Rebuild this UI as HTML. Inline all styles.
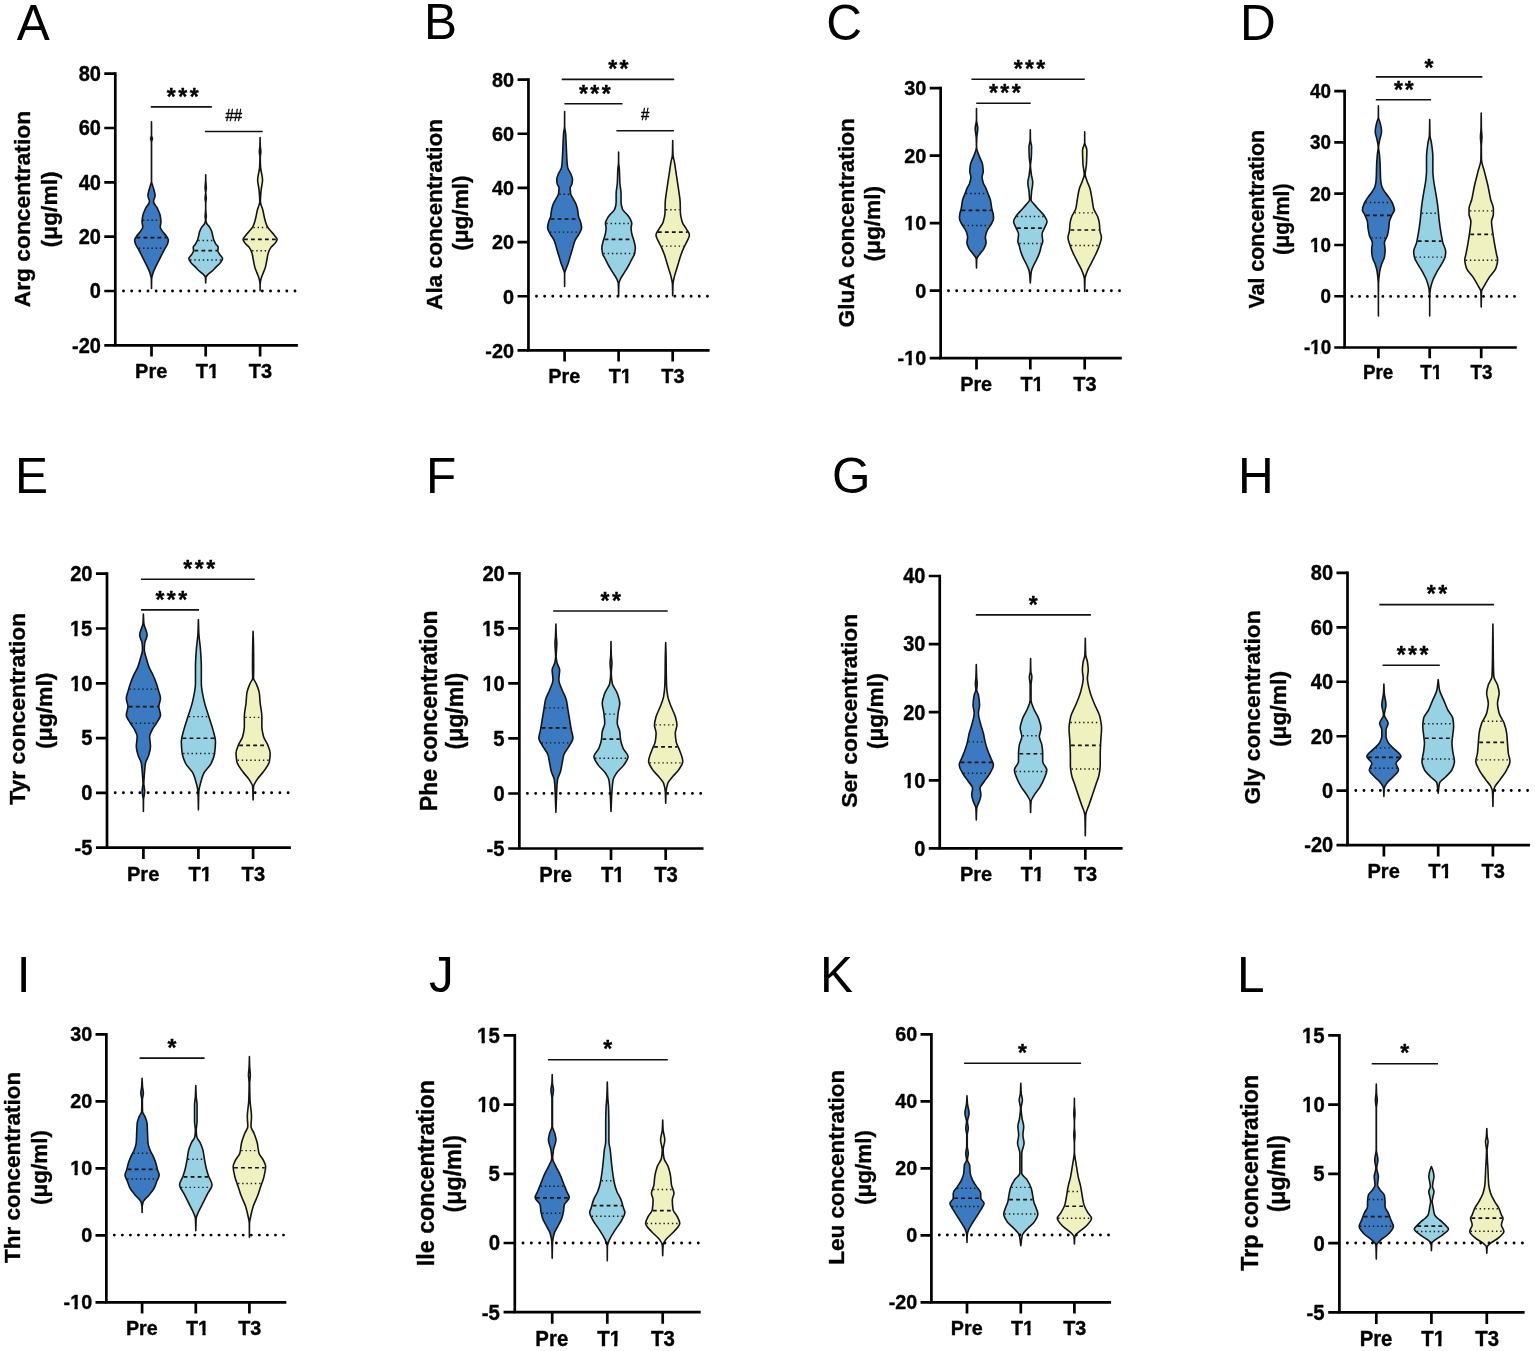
<!DOCTYPE html>
<html><head><meta charset="utf-8"><title>Amino acid concentrations</title>
<style>html,body{margin:0;padding:0;background:#fff;}body{width:1535px;height:1351px;overflow:hidden;}svg{display:block;}svg text[font-weight=bold]{stroke:#000;stroke-width:0.35px;stroke-linejoin:round;}</style>
</head><body>
<svg width="1535" height="1351" viewBox="0 0 1535 1351" font-family="'Liberation Sans', Arial, Helvetica, sans-serif">
<defs><clipPath id="c0"><rect x="-50" y="-60" width="140" height="56.7"/><rect x="0" y="-3.8" width="12.22" height="13.8"/><rect x="16.62" y="-3.8" width="3.16" height="13.8"/></clipPath><clipPath id="c1"><rect x="-50" y="-59.58" width="139.72" height="56.3"/><rect x="0" y="-3.78" width="12.12" height="13.71"/><rect x="16.49" y="-3.78" width="3.14" height="13.71"/></clipPath><clipPath id="c2"><rect x="-50" y="-59.64" width="139.76" height="56.36"/><rect x="4.37" y="-3.78" width="3.14" height="13.72"/><rect x="11.07" y="-3.78" width="11.07" height="13.72"/></clipPath><clipPath id="c3"><rect x="-50" y="-59.64" width="159.64" height="56.36"/><rect x="0" y="-3.78" width="6.63" height="13.72"/><rect x="11" y="-3.78" width="3.14" height="13.72"/><rect x="17.69" y="-3.78" width="11.07" height="13.72"/></clipPath><clipPath id="c4"><rect x="-50" y="-59.64" width="139.76" height="56.36"/><rect x="0" y="-3.78" width="12.16" height="13.72"/><rect x="16.53" y="-3.78" width="3.14" height="13.72"/></clipPath><clipPath id="c5"><rect x="-50" y="-56.46" width="137.64" height="53.35"/><rect x="4.14" y="-3.61" width="2.97" height="13.02"/><rect x="10.46" y="-3.61" width="10.46" height="13.02"/></clipPath><clipPath id="c6"><rect x="-50" y="-56.46" width="156.46" height="53.35"/><rect x="0" y="-3.61" width="6.26" height="13.02"/><rect x="10.4" y="-3.61" width="2.97" height="13.02"/><rect x="16.72" y="-3.61" width="10.46" height="13.02"/></clipPath><clipPath id="c7"><rect x="-50" y="-56.46" width="137.64" height="53.35"/><rect x="0" y="-3.61" width="11.48" height="13.02"/><rect x="15.62" y="-3.61" width="2.97" height="13.02"/></clipPath><clipPath id="c8"><rect x="-50" y="-60.36" width="140.24" height="57.04"/><rect x="4.43" y="-3.82" width="3.18" height="13.88"/><rect x="11.18" y="-3.82" width="11.18" height="13.88"/></clipPath><clipPath id="c9"><rect x="-50" y="-60.36" width="140.24" height="57.04"/><rect x="4.43" y="-3.82" width="3.18" height="13.88"/><rect x="11.18" y="-3.82" width="11.18" height="13.88"/></clipPath><clipPath id="c10"><rect x="-50" y="-60.36" width="140.24" height="57.04"/><rect x="0" y="-3.82" width="12.28" height="13.88"/><rect x="16.7" y="-3.82" width="3.18" height="13.88"/></clipPath><clipPath id="c11"><rect x="-50" y="-60.6" width="140.4" height="57.27"/><rect x="4.44" y="-3.83" width="3.19" height="13.93"/><rect x="11.23" y="-3.83" width="11.23" height="13.93"/></clipPath><clipPath id="c12"><rect x="-50" y="-60.6" width="140.4" height="57.27"/><rect x="4.44" y="-3.83" width="3.19" height="13.93"/><rect x="11.23" y="-3.83" width="11.23" height="13.93"/></clipPath><clipPath id="c13"><rect x="-50" y="-60.6" width="140.4" height="57.27"/><rect x="0" y="-3.83" width="12.34" height="13.93"/><rect x="16.78" y="-3.83" width="3.19" height="13.93"/></clipPath><clipPath id="c14"><rect x="-50" y="-60" width="140" height="56.7"/><rect x="4.4" y="-3.8" width="3.16" height="13.8"/><rect x="11.12" y="-3.8" width="11.12" height="13.8"/></clipPath><clipPath id="c15"><rect x="-50" y="-60" width="140" height="56.7"/><rect x="0" y="-3.8" width="12.22" height="13.8"/><rect x="16.62" y="-3.8" width="3.16" height="13.8"/></clipPath><clipPath id="c16"><rect x="-50" y="-60.12" width="140.08" height="56.81"/><rect x="0" y="-3.81" width="12.25" height="13.83"/><rect x="16.66" y="-3.81" width="3.17" height="13.83"/></clipPath><clipPath id="c17"><rect x="-50" y="-59.22" width="139.48" height="55.96"/><rect x="4.34" y="-3.76" width="3.12" height="13.63"/><rect x="10.98" y="-3.76" width="10.98" height="13.63"/></clipPath><clipPath id="c18"><rect x="-50" y="-59.22" width="159.22" height="55.96"/><rect x="0" y="-3.76" width="6.58" height="13.63"/><rect x="10.92" y="-3.76" width="3.12" height="13.63"/><rect x="17.56" y="-3.76" width="10.98" height="13.63"/></clipPath><clipPath id="c19"><rect x="-50" y="-59.22" width="139.48" height="55.96"/><rect x="0" y="-3.76" width="12.06" height="13.63"/><rect x="16.41" y="-3.76" width="3.12" height="13.63"/></clipPath><clipPath id="c20"><rect x="-50" y="-61.26" width="140.84" height="57.89"/><rect x="4.49" y="-3.87" width="3.23" height="14.08"/><rect x="11.35" y="-3.87" width="11.35" height="14.08"/></clipPath><clipPath id="c21"><rect x="-50" y="-61.26" width="140.84" height="57.89"/><rect x="4.49" y="-3.87" width="3.23" height="14.08"/><rect x="11.35" y="-3.87" width="11.35" height="14.08"/></clipPath><clipPath id="c22"><rect x="-50" y="-61.26" width="140.84" height="57.89"/><rect x="0" y="-3.87" width="12.46" height="14.08"/><rect x="16.95" y="-3.87" width="3.23" height="14.08"/></clipPath><clipPath id="c23"><rect x="-50" y="-59.22" width="139.48" height="55.96"/><rect x="0" y="-3.76" width="12.06" height="13.63"/><rect x="16.41" y="-3.76" width="3.12" height="13.63"/></clipPath><clipPath id="c24"><rect x="-50" y="-61.02" width="140.68" height="57.66"/><rect x="4.47" y="-3.86" width="3.21" height="14.03"/><rect x="11.32" y="-3.86" width="11.32" height="14.03"/></clipPath><clipPath id="c25"><rect x="-50" y="-61.02" width="140.68" height="57.66"/><rect x="4.47" y="-3.86" width="3.21" height="14.03"/><rect x="11.32" y="-3.86" width="11.32" height="14.03"/></clipPath><clipPath id="c26"><rect x="-50" y="-61.02" width="140.68" height="57.66"/><rect x="0" y="-3.86" width="12.43" height="14.03"/><rect x="16.91" y="-3.86" width="3.21" height="14.03"/></clipPath></defs>
<rect width="1535" height="1351" fill="#fff"/>
<g>
<text x="16.75" y="39.6" font-size="49.5">A</text>
<path d="M151.5,121.71C151.52,126.38 151.51,131.05 151.55,135.71C151.56,136.67 152.39,137.62 152.39,138.57C152.39,139.76 151.55,140.95 151.55,142.14C151.55,155.24 151.55,168.33 151.55,181.43C151.55,182.38 151.99,183.33 152.24,184.29C152.75,186.19 153.5,188.1 153.96,190C154.41,191.9 155.1,193.81 155.1,195.71C155.1,197.62 153.53,199.52 153.53,201.43C153.53,203.81 156.45,206.19 157.53,208.57C158.61,210.95 159.8,213.33 160.24,215.71C160.59,217.62 160.96,219.52 160.96,221.43C160.96,223.33 160.24,225.24 160.24,227.14C160.24,228.57 161.6,230 162.53,231.43C163.46,232.86 165.17,234.29 166.1,235.71C167.03,237.14 168.39,238.57 168.39,240C168.39,241.43 167.85,242.86 167.39,244.29C166.77,246.19 165.12,248.1 164.1,250C163.08,251.9 162.2,253.81 161.24,255.71C160.29,257.62 159.34,259.52 158.39,261.43C157.43,263.33 156.4,265.24 155.53,267.14C154.65,269.05 153.7,270.95 153.1,272.86C152.5,274.76 151.74,276.67 151.67,278.57C151.56,281.9 151.56,285.24 151.5,288.57L151.5,288.57C151.44,285.24 151.44,281.9 151.33,278.57C151.26,276.67 150.5,274.76 149.9,272.86C149.3,270.95 148.35,269.05 147.47,267.14C146.6,265.24 145.57,263.33 144.61,261.43C143.66,259.52 142.71,257.62 141.76,255.71C140.8,253.81 139.92,251.9 138.9,250C137.88,248.1 136.23,246.19 135.61,244.29C135.15,242.86 134.61,241.43 134.61,240C134.61,238.57 135.97,237.14 136.9,235.71C137.83,234.29 139.54,232.86 140.47,231.43C141.4,230 142.76,228.57 142.76,227.14C142.76,225.24 142.04,223.33 142.04,221.43C142.04,219.52 142.41,217.62 142.76,215.71C143.2,213.33 144.39,210.95 145.47,208.57C146.55,206.19 149.47,203.81 149.47,201.43C149.47,199.52 147.9,197.62 147.9,195.71C147.9,193.81 148.59,191.9 149.04,190C149.5,188.1 150.25,186.19 150.76,184.29C151.01,183.33 151.45,182.38 151.45,181.43C151.45,168.33 151.45,155.24 151.45,142.14C151.45,140.95 150.61,139.76 150.61,138.57C150.61,137.62 151.44,136.67 151.45,135.71C151.49,131.05 151.48,126.38 151.5,121.71Z" fill="#3b79c0" stroke="#141414" stroke-width="1.6" stroke-linejoin="round"/>
<line x1="142.98" y1="220.29" x2="160.02" y2="220.29" stroke="#1a1a1a" stroke-width="1.4" stroke-dasharray="1.4 2.83"/>
<line x1="136.5" y1="237.57" x2="166.5" y2="237.57" stroke="#111" stroke-width="1.7" stroke-dasharray="3.8 3.2"/>
<line x1="138.76" y1="248.29" x2="164.24" y2="248.29" stroke="#1a1a1a" stroke-width="1.4" stroke-dasharray="1.4 2.83"/>
<path d="M205.7,174.86C205.72,176.57 205.72,178.29 205.75,180C205.77,181.19 205.93,182.38 206.01,183.57C206.12,185.14 206.3,186.71 206.3,188.29C206.3,189.81 205.75,191.33 205.75,192.86C205.75,194.62 206.3,196.38 206.3,198.14C206.3,199.95 205.75,201.76 205.75,203.57C205.75,205.24 205.75,206.9 205.75,208.57C205.75,210.1 205.91,211.62 206.01,213.14C206.09,214.19 206.3,215.24 206.3,216.29C206.3,217.43 205.87,218.57 205.87,219.71C205.87,220.86 206.22,222 206.59,223.14C207.01,224.48 208.78,225.81 209.59,227.14C210.44,228.57 211.27,230 211.73,231.43C212.18,232.86 212.37,234.29 212.73,235.71C213.08,237.14 213.37,238.57 213.87,240C214.37,241.43 215.15,242.86 216.01,244.29C216.59,245.24 218.16,246.19 218.16,247.14C218.16,248.33 217.87,249.52 217.87,250.71C217.87,251.9 218.91,253.1 219.59,254.29C220.39,255.71 222.59,257.14 222.59,258.57C222.59,260 221.29,261.43 220.3,262.86C219.31,264.29 217.44,265.71 216.01,267.14C214.59,268.57 213.33,270 211.73,271.43C210.66,272.38 209.05,273.33 208.16,274.29C207.26,275.24 206.13,276.19 206.01,277.14C205.84,278.57 205.81,280 205.75,281.43C205.73,281.9 205.72,282.38 205.7,282.86L205.7,282.86C205.68,282.38 205.67,281.9 205.65,281.43C205.59,280 205.56,278.57 205.39,277.14C205.27,276.19 204.14,275.24 203.24,274.29C202.35,273.33 200.74,272.38 199.67,271.43C198.07,270 196.81,268.57 195.39,267.14C193.96,265.71 192.09,264.29 191.1,262.86C190.11,261.43 188.81,260 188.81,258.57C188.81,257.14 191.01,255.71 191.81,254.29C192.49,253.1 193.53,251.9 193.53,250.71C193.53,249.52 193.24,248.33 193.24,247.14C193.24,246.19 194.81,245.24 195.39,244.29C196.25,242.86 197.03,241.43 197.53,240C198.03,238.57 198.32,237.14 198.67,235.71C199.03,234.29 199.22,232.86 199.67,231.43C200.13,230 200.96,228.57 201.81,227.14C202.62,225.81 204.39,224.48 204.81,223.14C205.18,222 205.53,220.86 205.53,219.71C205.53,218.57 205.1,217.43 205.1,216.29C205.1,215.24 205.31,214.19 205.39,213.14C205.49,211.62 205.65,210.1 205.65,208.57C205.65,206.9 205.65,205.24 205.65,203.57C205.65,201.76 205.1,199.95 205.1,198.14C205.1,196.38 205.65,194.62 205.65,192.86C205.65,191.33 205.1,189.81 205.1,188.29C205.1,186.71 205.28,185.14 205.39,183.57C205.47,182.38 205.63,181.19 205.65,180C205.68,178.29 205.68,176.57 205.7,174.86Z" fill="#96d2e4" stroke="#141414" stroke-width="1.6" stroke-linejoin="round"/>
<line x1="198.27" y1="240.43" x2="213.13" y2="240.43" stroke="#1a1a1a" stroke-width="1.4" stroke-dasharray="1.4 2.83"/>
<line x1="194.43" y1="250.71" x2="216.97" y2="250.71" stroke="#111" stroke-width="1.7" stroke-dasharray="3.8 3.2"/>
<line x1="190.09" y1="260" x2="221.31" y2="260" stroke="#1a1a1a" stroke-width="1.4" stroke-dasharray="1.4 2.83"/>
<path d="M260.1,137.43C260.16,140.19 260.17,142.95 260.27,145.71C260.34,147.62 260.84,149.52 260.84,151.43C260.84,153.33 260.27,155.24 260.27,157.14C260.27,160.48 260.4,163.81 260.56,167.14C260.76,171.43 262.56,175.71 262.56,180C262.56,183.33 261.42,186.67 261.13,190C260.79,193.81 260.41,197.62 260.41,201.43C260.41,204.29 262.18,207.14 262.84,210C263.28,211.9 263.56,213.81 263.99,215.71C264.41,217.62 264.84,219.52 265.41,221.43C265.99,223.33 266.55,225.24 267.56,227.14C268.31,228.57 269.94,230 271.13,231.43C272.32,232.86 273.63,234.29 274.7,235.71C275.59,236.9 277.13,238.1 277.13,239.29C277.13,240.48 276.18,241.67 275.41,242.86C274.5,244.29 272.1,245.71 271.13,247.14C269.84,249.05 268.82,250.95 268.27,252.86C267.58,255.24 267.32,257.62 266.84,260C266.37,262.38 266.04,264.76 265.41,267.14C264.91,269.05 263.99,270.95 263.27,272.86C262.56,274.76 261.58,276.67 261.13,278.57C260.68,280.48 260.18,282.38 260.15,284.29C260.12,286.43 260.12,288.57 260.1,290.71L260.1,290.71C260.08,288.57 260.08,286.43 260.05,284.29C260.02,282.38 259.52,280.48 259.07,278.57C258.62,276.67 257.64,274.76 256.93,272.86C256.21,270.95 255.29,269.05 254.79,267.14C254.16,264.76 253.83,262.38 253.36,260C252.88,257.62 252.62,255.24 251.93,252.86C251.38,250.95 250.36,249.05 249.07,247.14C248.1,245.71 245.7,244.29 244.79,242.86C244.02,241.67 243.07,240.48 243.07,239.29C243.07,238.1 244.61,236.9 245.5,235.71C246.57,234.29 247.88,232.86 249.07,231.43C250.26,230 251.89,228.57 252.64,227.14C253.65,225.24 254.21,223.33 254.79,221.43C255.36,219.52 255.79,217.62 256.21,215.71C256.64,213.81 256.92,211.9 257.36,210C258.02,207.14 259.79,204.29 259.79,201.43C259.79,197.62 259.41,193.81 259.07,190C258.78,186.67 257.64,183.33 257.64,180C257.64,175.71 259.44,171.43 259.64,167.14C259.8,163.81 259.93,160.48 259.93,157.14C259.93,155.24 259.36,153.33 259.36,151.43C259.36,149.52 259.86,147.62 259.93,145.71C260.03,142.95 260.04,140.19 260.1,137.43Z" fill="#eff2bf" stroke="#141414" stroke-width="1.6" stroke-linejoin="round"/>
<line x1="253.38" y1="227.43" x2="266.82" y2="227.43" stroke="#1a1a1a" stroke-width="1.4" stroke-dasharray="1.4 2.83"/>
<line x1="243.97" y1="239.29" x2="276.23" y2="239.29" stroke="#111" stroke-width="1.7" stroke-dasharray="3.8 3.2"/>
<line x1="252.02" y1="250.71" x2="268.18" y2="250.71" stroke="#1a1a1a" stroke-width="1.4" stroke-dasharray="1.4 2.83"/>
<line x1="123.5" y1="291" x2="295.3" y2="291" stroke="#000" stroke-width="2.9" stroke-linecap="round" stroke-dasharray="0 8.1667"/>
<path d="M115.3,72.35 V345.3 H297.9" fill="none" stroke="#000" stroke-width="2.7" stroke-linecap="butt" stroke-linejoin="miter"/>
<path d="M104.3,73.7 H115.3 M104.3,128.02 H115.3 M104.3,182.34 H115.3 M104.3,236.66 H115.3 M104.3,290.98 H115.3 M104.3,345.3 H115.3 M151.5,345.3 V356.6 M205.7,345.3 V356.6 M260.1,345.3 V356.6" stroke="#000" stroke-width="2.7" fill="none"/>
<text transform="translate(78.7,81.01) scale(1,1.06)" font-size="20" font-weight="bold">80</text>
<text transform="translate(78.7,135.33) scale(1,1.06)" font-size="20" font-weight="bold">60</text>
<text transform="translate(78.7,189.65) scale(1,1.06)" font-size="20" font-weight="bold">40</text>
<text transform="translate(78.7,243.97) scale(1,1.06)" font-size="20" font-weight="bold">20</text>
<text transform="translate(89.8,298.29) scale(1,1.06)" font-size="20" font-weight="bold">0</text>
<text transform="translate(72,352.61) scale(1,1.06)" font-size="20" font-weight="bold">-20</text>
<text transform="translate(135.1,378.3) scale(1,1.05)" font-size="20" font-weight="bold">Pre</text>
<text transform="translate(195.77,378.3) scale(1,1.05)" font-size="20" font-weight="bold" clip-path="url(#c0)">T1</text>
<text transform="translate(248.7,378.3) scale(1,1.05)" font-size="20" font-weight="bold">T3</text>
<line x1="150.8" y1="106.9" x2="211.9" y2="106.9" stroke="#111" stroke-width="1.6"/>
<text x="166.85" y="105" font-size="23" font-weight="bold">*</text>
<text x="178.25" y="105" font-size="23" font-weight="bold">*</text>
<text x="189.65" y="105" font-size="23" font-weight="bold">*</text>
<line x1="204.9" y1="131.5" x2="262.7" y2="131.5" stroke="#111" stroke-width="1.6"/>
<text stroke="#000" stroke-width="0.35" transform="translate(225.45,121.06) scale(1,1.08)" font-size="15">##</text>
<text transform="translate(30.1,209.5) rotate(-90)" x="-97.75" font-size="22.8" font-weight="bold">Arg concentration</text>
<text transform="translate(57,209.4) rotate(-90)" x="-38" font-size="22.8" font-weight="bold">(&#956;g/ml)</text>
</g>
<g>
<text x="423.9" y="39.2" font-size="49.5">B</text>
<path d="M564.6,111.43C564.62,116.43 564.61,121.43 564.65,126.43C564.67,128.81 565.44,131.19 565.63,133.57C566,138.33 566.1,143.1 566.34,147.86C566.58,152.62 566.69,157.38 567.06,162.14C567.2,164.05 567.39,165.95 567.77,167.86C568.15,169.76 569.88,171.67 570.63,173.57C571.38,175.48 572.49,177.38 572.49,179.29C572.49,180.71 572.29,182.14 572.06,183.57C571.83,185 570.2,186.43 570.2,187.86C570.2,189.76 570.38,191.67 570.63,193.57C570.88,195.48 572.53,197.38 573.49,199.29C574.44,201.19 575.71,203.1 576.34,205C576.98,206.9 577.45,208.81 577.77,210.71C578.09,212.62 578.13,214.52 578.49,216.43C578.84,218.33 580.17,220.24 580.63,222.14C581.08,224.05 581.63,225.95 581.63,227.86C581.63,229.76 580.14,231.67 579.2,233.57C578.02,235.95 575.87,238.33 574.91,240.71C573.96,243.1 573.49,245.48 572.77,247.86C572.06,250.24 571.34,252.62 570.63,255C569.91,257.38 569.26,259.76 568.49,262.14C567.71,264.52 566.68,266.9 565.91,269.29C565.45,270.71 564.66,272.14 564.65,273.57C564.61,277.86 564.62,282.14 564.6,286.43L564.6,286.43C564.58,282.14 564.59,277.86 564.55,273.57C564.54,272.14 563.75,270.71 563.29,269.29C562.52,266.9 561.49,264.52 560.71,262.14C559.94,259.76 559.29,257.38 558.57,255C557.86,252.62 557.14,250.24 556.43,247.86C555.71,245.48 555.24,243.1 554.29,240.71C553.33,238.33 551.18,235.95 550,233.57C549.06,231.67 547.57,229.76 547.57,227.86C547.57,225.95 548.12,224.05 548.57,222.14C549.03,220.24 550.36,218.33 550.71,216.43C551.07,214.52 551.11,212.62 551.43,210.71C551.75,208.81 552.22,206.9 552.86,205C553.49,203.1 554.76,201.19 555.71,199.29C556.67,197.38 558.32,195.48 558.57,193.57C558.82,191.67 559,189.76 559,187.86C559,186.43 557.38,185 557.14,183.57C556.91,182.14 556.71,180.71 556.71,179.29C556.71,177.38 557.82,175.48 558.57,173.57C559.32,171.67 561.05,169.76 561.43,167.86C561.81,165.95 562,164.05 562.14,162.14C562.51,157.38 562.62,152.62 562.86,147.86C563.1,143.1 563.2,138.33 563.57,133.57C563.76,131.19 564.53,128.81 564.55,126.43C564.59,121.43 564.58,116.43 564.6,111.43Z" fill="#3b79c0" stroke="#141414" stroke-width="1.6" stroke-linejoin="round"/>
<line x1="559.32" y1="194.29" x2="569.88" y2="194.29" stroke="#1a1a1a" stroke-width="1.4" stroke-dasharray="1.4 2.83"/>
<line x1="550.71" y1="219" x2="578.49" y2="219" stroke="#111" stroke-width="1.7" stroke-dasharray="3.8 3.2"/>
<line x1="550.12" y1="232.14" x2="579.08" y2="232.14" stroke="#1a1a1a" stroke-width="1.4" stroke-dasharray="1.4 2.83"/>
<path d="M618.6,152.14C618.62,155.48 618.62,158.81 618.65,162.14C618.67,164.52 619.2,166.9 619.34,169.29C619.63,174.05 619.62,178.81 619.91,183.57C620.12,186.9 621.06,190.24 621.06,193.57C621.06,196.43 621.06,199.29 621.06,202.14C621.06,204.52 621.69,206.9 622.49,209.29C623.12,211.19 626.05,213.1 627.49,215C628.56,216.43 629.71,217.86 630.34,219.29C630.98,220.71 631.77,222.14 631.77,223.57C631.77,225 631.06,226.43 631.06,227.86C631.06,229.76 631.44,231.67 631.77,233.57C632.19,235.95 633.34,238.33 633.91,240.71C634.49,243.1 635.34,245.48 635.34,247.86C635.34,249.76 635.01,251.67 634.63,253.57C634.25,255.48 632.72,257.38 631.77,259.29C630.82,261.19 629.95,263.1 628.91,265C627.62,267.38 626.06,269.76 624.63,272.14C623.2,274.52 621.34,276.9 620.34,279.29C619.74,280.71 618.99,282.14 618.91,283.57C618.69,287.62 618.7,291.67 618.6,295.71L618.6,295.71C618.5,291.67 618.51,287.62 618.29,283.57C618.21,282.14 617.46,280.71 616.86,279.29C615.86,276.9 614,274.52 612.57,272.14C611.14,269.76 609.58,267.38 608.29,265C607.25,263.1 606.38,261.19 605.43,259.29C604.48,257.38 602.95,255.48 602.57,253.57C602.19,251.67 601.86,249.76 601.86,247.86C601.86,245.48 602.71,243.1 603.29,240.71C603.86,238.33 605.01,235.95 605.43,233.57C605.76,231.67 606.14,229.76 606.14,227.86C606.14,226.43 605.43,225 605.43,223.57C605.43,222.14 606.22,220.71 606.86,219.29C607.49,217.86 608.64,216.43 609.71,215C611.15,213.1 614.08,211.19 614.71,209.29C615.51,206.9 616.14,204.52 616.14,202.14C616.14,199.29 616.14,196.43 616.14,193.57C616.14,190.24 617.08,186.9 617.29,183.57C617.58,178.81 617.57,174.05 617.86,169.29C618,166.9 618.53,164.52 618.55,162.14C618.58,158.81 618.58,155.48 618.6,152.14Z" fill="#96d2e4" stroke="#141414" stroke-width="1.6" stroke-linejoin="round"/>
<line x1="606.33" y1="223.57" x2="630.87" y2="223.57" stroke="#1a1a1a" stroke-width="1.4" stroke-dasharray="1.4 2.83"/>
<line x1="604.59" y1="239.29" x2="632.61" y2="239.29" stroke="#111" stroke-width="1.7" stroke-dasharray="3.8 3.2"/>
<line x1="603.47" y1="253.57" x2="633.73" y2="253.57" stroke="#1a1a1a" stroke-width="1.4" stroke-dasharray="1.4 2.83"/>
<path d="M672.7,140.43C672.8,145.29 672.81,150.14 673.01,155C673.12,157.38 674.03,159.76 674.44,162.14C675.27,166.9 675.87,171.67 676.59,176.43C677.3,181.19 678.08,185.95 678.73,190.71C679.25,194.52 680,198.33 680.16,202.14C680.32,205.95 680.27,209.76 680.44,213.57C680.58,216.43 681.38,219.29 682.3,222.14C683.07,224.52 685.29,226.9 686.59,229.29C687.62,231.19 689.44,233.1 689.44,235C689.44,237.38 687.65,239.76 686.59,242.14C685.74,244.05 684.58,245.95 683.73,247.86C682.67,250.24 681.69,252.62 680.87,255C680.06,257.38 679.44,259.76 678.73,262.14C678.01,264.52 677.3,266.9 676.59,269.29C675.87,271.67 675.01,274.05 674.44,276.43C673.87,278.81 673.13,281.19 673.01,283.57C672.82,287.62 672.8,291.67 672.7,295.71L672.7,295.71C672.6,291.67 672.58,287.62 672.39,283.57C672.27,281.19 671.53,278.81 670.96,276.43C670.39,274.05 669.53,271.67 668.81,269.29C668.1,266.9 667.39,264.52 666.67,262.14C665.96,259.76 665.34,257.38 664.53,255C663.71,252.62 662.73,250.24 661.67,247.86C660.82,245.95 659.66,244.05 658.81,242.14C657.75,239.76 655.96,237.38 655.96,235C655.96,233.1 657.78,231.19 658.81,229.29C660.11,226.9 662.33,224.52 663.1,222.14C664.02,219.29 664.82,216.43 664.96,213.57C665.13,209.76 665.08,205.95 665.24,202.14C665.4,198.33 666.15,194.52 666.67,190.71C667.32,185.95 668.1,181.19 668.81,176.43C669.53,171.67 670.13,166.9 670.96,162.14C671.37,159.76 672.28,157.38 672.39,155C672.59,150.14 672.6,145.29 672.7,140.43Z" fill="#eff2bf" stroke="#141414" stroke-width="1.6" stroke-linejoin="round"/>
<line x1="665.98" y1="209.71" x2="679.42" y2="209.71" stroke="#1a1a1a" stroke-width="1.4" stroke-dasharray="1.4 2.83"/>
<line x1="657.9" y1="232.14" x2="687.5" y2="232.14" stroke="#111" stroke-width="1.7" stroke-dasharray="3.8 3.2"/>
<line x1="661.74" y1="246.14" x2="683.66" y2="246.14" stroke="#1a1a1a" stroke-width="1.4" stroke-dasharray="1.4 2.83"/>
<line x1="536.5" y1="296.2" x2="707.7" y2="296.2" stroke="#000" stroke-width="2.9" stroke-linecap="round" stroke-dasharray="0 8.1381"/>
<path d="M528.45,78.25 V350.4 H709.6" fill="none" stroke="#000" stroke-width="2.7" stroke-linecap="butt" stroke-linejoin="miter"/>
<path d="M517.53,79.6 H528.45 M517.53,133.76 H528.45 M517.53,187.92 H528.45 M517.53,242.08 H528.45 M517.53,296.24 H528.45 M517.53,350.4 H528.45 M564.6,350.4 V361.62 M618.6,350.4 V361.62 M672.7,350.4 V361.62" stroke="#000" stroke-width="2.7" fill="none"/>
<text transform="translate(492.02,86.88) scale(1,1.06)" font-size="19.86" font-weight="bold">80</text>
<text transform="translate(492.02,141.04) scale(1,1.06)" font-size="19.86" font-weight="bold">60</text>
<text transform="translate(492.02,195.2) scale(1,1.06)" font-size="19.86" font-weight="bold">40</text>
<text transform="translate(492.02,249.36) scale(1,1.06)" font-size="19.86" font-weight="bold">20</text>
<text transform="translate(503.02,303.52) scale(1,1.06)" font-size="19.86" font-weight="bold">0</text>
<text transform="translate(485.32,357.68) scale(1,1.06)" font-size="19.86" font-weight="bold">-20</text>
<text transform="translate(548.21,383.17) scale(1,1.05)" font-size="19.86" font-weight="bold">Pre</text>
<text transform="translate(608.72,383.17) scale(1,1.05)" font-size="19.86" font-weight="bold" clip-path="url(#c1)">T1</text>
<text transform="translate(661.31,383.17) scale(1,1.05)" font-size="19.86" font-weight="bold">T3</text>
<line x1="561.7" y1="79.35" x2="674.2" y2="79.35" stroke="#111" stroke-width="1.6"/>
<text x="608.19" y="77" font-size="23" font-weight="bold">*</text>
<text x="619.51" y="77" font-size="23" font-weight="bold">*</text>
<line x1="564.4" y1="103.8" x2="622.5" y2="103.8" stroke="#111" stroke-width="1.6"/>
<text x="579.02" y="102" font-size="23" font-weight="bold">*</text>
<text x="590.34" y="102" font-size="23" font-weight="bold">*</text>
<text x="601.66" y="102" font-size="23" font-weight="bold">*</text>
<line x1="616.4" y1="130.7" x2="673.9" y2="130.7" stroke="#111" stroke-width="1.6"/>
<text stroke="#000" stroke-width="0.35" transform="translate(641,120.31) scale(1,1.08)" font-size="14.89">#</text>
<text transform="translate(441.9,214.9) rotate(-90)" x="-95.01" font-size="22.64" font-weight="bold">Ala concentration</text>
<text transform="translate(468,213.2) rotate(-90)" x="-37.66" font-size="22.64" font-weight="bold">(&#956;g/ml)</text>
</g>
<g>
<text x="826.2" y="39.6" font-size="49.5">C</text>
<path d="M976.5,108.57C976.52,112.38 976.52,116.19 976.55,120C976.58,122.86 977.81,125.71 977.81,128.57C977.81,131.43 976.94,134.29 976.81,137.14C976.67,140.48 976.55,143.81 976.55,147.14C976.55,150.48 978.49,153.81 979.67,157.14C980.51,159.52 982.15,161.9 982.53,164.29C982.91,166.67 983.24,169.05 983.24,171.43C983.24,173.33 982.1,175.24 982.1,177.14C982.1,179.05 982.7,180.95 983.24,182.86C983.79,184.76 985.28,186.67 986.1,188.57C986.92,190.48 987.53,192.38 988.24,194.29C988.96,196.19 989.93,198.1 990.39,200C991.06,202.86 991.24,205.71 991.81,208.57C992.2,210.48 993.05,212.38 993.24,214.29C993.39,215.71 993.53,217.14 993.53,218.57C993.53,220.48 992.04,222.38 991.1,224.29C989.92,226.67 987.64,229.05 986.81,231.43C986.15,233.33 985.39,235.24 985.39,237.14C985.39,239.05 986.1,240.95 986.1,242.86C986.1,244.76 984.91,246.67 983.96,248.57C983,250.48 981.01,252.38 979.67,254.29C978.67,255.71 976.92,257.14 976.81,258.57C976.59,261.67 976.6,264.76 976.5,267.86L976.5,267.86C976.4,264.76 976.41,261.67 976.19,258.57C976.08,257.14 974.33,255.71 973.33,254.29C971.99,252.38 970,250.48 969.04,248.57C968.09,246.67 966.9,244.76 966.9,242.86C966.9,240.95 967.61,239.05 967.61,237.14C967.61,235.24 966.85,233.33 966.19,231.43C965.36,229.05 963.08,226.67 961.9,224.29C960.96,222.38 959.47,220.48 959.47,218.57C959.47,217.14 959.61,215.71 959.76,214.29C959.95,212.38 960.8,210.48 961.19,208.57C961.76,205.71 961.94,202.86 962.61,200C963.07,198.1 964.04,196.19 964.76,194.29C965.47,192.38 966.08,190.48 966.9,188.57C967.72,186.67 969.21,184.76 969.76,182.86C970.3,180.95 970.9,179.05 970.9,177.14C970.9,175.24 969.76,173.33 969.76,171.43C969.76,169.05 970.09,166.67 970.47,164.29C970.85,161.9 972.49,159.52 973.33,157.14C974.51,153.81 976.45,150.48 976.45,147.14C976.45,143.81 976.33,140.48 976.19,137.14C976.06,134.29 975.19,131.43 975.19,128.57C975.19,125.71 976.42,122.86 976.45,120C976.48,116.19 976.48,112.38 976.5,108.57Z" fill="#3b79c0" stroke="#141414" stroke-width="1.6" stroke-linejoin="round"/>
<line x1="965.92" y1="193.57" x2="987.08" y2="193.57" stroke="#1a1a1a" stroke-width="1.4" stroke-dasharray="1.4 2.83"/>
<line x1="961.6" y1="210.43" x2="991.4" y2="210.43" stroke="#111" stroke-width="1.7" stroke-dasharray="3.8 3.2"/>
<line x1="963.44" y1="225.43" x2="989.56" y2="225.43" stroke="#1a1a1a" stroke-width="1.4" stroke-dasharray="1.4 2.83"/>
<path d="M1030.3,129.71C1030.36,133.14 1030.36,136.57 1030.47,140C1030.55,142.38 1031.61,144.76 1031.61,147.14C1031.61,150.48 1031.48,153.81 1031.33,157.14C1031.2,160 1030.47,162.86 1030.47,165.71C1030.47,168.57 1030.97,171.43 1031.33,174.29C1031.69,177.14 1032.76,180 1032.76,182.86C1032.76,185.71 1031.87,188.57 1031.61,191.43C1031.36,194.29 1031.04,197.14 1031.04,200C1031.04,201.43 1033.05,202.86 1034.19,204.29C1035.7,206.19 1037.52,208.1 1039.19,210C1040.85,211.9 1042.97,213.81 1044.19,215.71C1045.4,217.62 1047.04,219.52 1047.04,221.43C1047.04,223.33 1045.64,225.24 1044.9,227.14C1043.98,229.52 1042.04,231.9 1042.04,234.29C1042.04,236.67 1042.76,239.05 1042.76,241.43C1042.76,242.86 1041.74,244.29 1041.33,245.71C1040.78,247.62 1040.47,249.52 1039.9,251.43C1039.33,253.33 1038.57,255.24 1037.76,257.14C1036.74,259.52 1035.24,261.9 1034.19,264.29C1033.13,266.67 1031.7,269.05 1031.33,271.43C1030.74,275.24 1030.64,279.05 1030.3,282.86L1030.3,282.86C1029.96,279.05 1029.86,275.24 1029.27,271.43C1028.9,269.05 1027.47,266.67 1026.41,264.29C1025.36,261.9 1023.86,259.52 1022.84,257.14C1022.03,255.24 1021.27,253.33 1020.7,251.43C1020.13,249.52 1019.82,247.62 1019.27,245.71C1018.86,244.29 1017.84,242.86 1017.84,241.43C1017.84,239.05 1018.56,236.67 1018.56,234.29C1018.56,231.9 1016.62,229.52 1015.7,227.14C1014.96,225.24 1013.56,223.33 1013.56,221.43C1013.56,219.52 1015.2,217.62 1016.41,215.71C1017.63,213.81 1019.75,211.9 1021.41,210C1023.08,208.1 1024.9,206.19 1026.41,204.29C1027.55,202.86 1029.56,201.43 1029.56,200C1029.56,197.14 1029.24,194.29 1028.99,191.43C1028.73,188.57 1027.84,185.71 1027.84,182.86C1027.84,180 1028.91,177.14 1029.27,174.29C1029.63,171.43 1030.13,168.57 1030.13,165.71C1030.13,162.86 1029.4,160 1029.27,157.14C1029.12,153.81 1028.99,150.48 1028.99,147.14C1028.99,144.76 1030.05,142.38 1030.13,140C1030.24,136.57 1030.24,133.14 1030.3,129.71Z" fill="#96d2e4" stroke="#141414" stroke-width="1.6" stroke-linejoin="round"/>
<line x1="1016.84" y1="216.43" x2="1043.76" y2="216.43" stroke="#1a1a1a" stroke-width="1.4" stroke-dasharray="1.4 2.83"/>
<line x1="1017.04" y1="228.14" x2="1043.56" y2="228.14" stroke="#111" stroke-width="1.7" stroke-dasharray="3.8 3.2"/>
<line x1="1019.3" y1="243.57" x2="1041.3" y2="243.57" stroke="#1a1a1a" stroke-width="1.4" stroke-dasharray="1.4 2.83"/>
<path d="M1084.7,131.71C1084.72,135.43 1084.71,139.14 1084.75,142.86C1084.77,145.24 1086.87,147.62 1086.87,150C1086.87,154.76 1086.68,159.52 1086.44,164.29C1086.27,167.62 1085.16,170.95 1085.16,174.29C1085.16,176.67 1086.37,179.05 1087.16,181.43C1087.94,183.81 1089.39,186.19 1090.01,188.57C1091.01,192.38 1091.49,196.19 1092.16,200C1092.66,202.86 1092.87,205.71 1093.59,208.57C1094.3,211.43 1096.94,214.29 1097.87,217.14C1098.49,219.05 1099.05,220.95 1099.3,222.86C1099.67,225.71 1099.64,228.57 1100.01,231.43C1100.26,233.33 1101.44,235.24 1101.44,237.14C1101.44,240 1100.19,242.86 1099.3,245.71C1098.41,248.57 1097.03,251.43 1095.73,254.29C1094.43,257.14 1092.87,260 1091.44,262.86C1090.01,265.71 1088.22,268.57 1087.16,271.43C1086.27,273.81 1085.13,276.19 1085.01,278.57C1084.8,282.86 1084.8,287.14 1084.7,291.43L1084.7,291.43C1084.6,287.14 1084.6,282.86 1084.39,278.57C1084.27,276.19 1083.13,273.81 1082.24,271.43C1081.18,268.57 1079.39,265.71 1077.96,262.86C1076.53,260 1074.97,257.14 1073.67,254.29C1072.37,251.43 1070.99,248.57 1070.1,245.71C1069.21,242.86 1067.96,240 1067.96,237.14C1067.96,235.24 1069.14,233.33 1069.39,231.43C1069.76,228.57 1069.73,225.71 1070.1,222.86C1070.35,220.95 1070.91,219.05 1071.53,217.14C1072.46,214.29 1075.1,211.43 1075.81,208.57C1076.53,205.71 1076.74,202.86 1077.24,200C1077.91,196.19 1078.39,192.38 1079.39,188.57C1080.01,186.19 1081.46,183.81 1082.24,181.43C1083.03,179.05 1084.24,176.67 1084.24,174.29C1084.24,170.95 1083.13,167.62 1082.96,164.29C1082.72,159.52 1082.53,154.76 1082.53,150C1082.53,147.62 1084.63,145.24 1084.65,142.86C1084.69,139.14 1084.68,135.43 1084.7,131.71Z" fill="#eff2bf" stroke="#141414" stroke-width="1.6" stroke-linejoin="round"/>
<line x1="1074.65" y1="212.86" x2="1094.75" y2="212.86" stroke="#1a1a1a" stroke-width="1.4" stroke-dasharray="1.4 2.83"/>
<line x1="1070.44" y1="230" x2="1098.96" y2="230" stroke="#111" stroke-width="1.7" stroke-dasharray="3.8 3.2"/>
<line x1="1070.91" y1="245.43" x2="1098.49" y2="245.43" stroke="#1a1a1a" stroke-width="1.4" stroke-dasharray="1.4 2.83"/>
<line x1="948.5" y1="290.8" x2="1119.8" y2="290.8" stroke="#000" stroke-width="2.9" stroke-linecap="round" stroke-dasharray="0 8.1429"/>
<path d="M940.65,86.75 V358.2 H1121.8" fill="none" stroke="#000" stroke-width="2.7" stroke-linecap="butt" stroke-linejoin="miter"/>
<path d="M929.72,88.1 H940.65 M929.72,155.62 H940.65 M929.72,223.15 H940.65 M929.72,290.68 H940.65 M929.72,358.2 H940.65 M976.5,358.2 V369.43 M1030.3,358.2 V369.43 M1084.7,358.2 V369.43" stroke="#000" stroke-width="2.7" fill="none"/>
<text transform="translate(904.22,95.32) scale(1,1.06)" font-size="19.88" font-weight="bold">30</text>
<text transform="translate(904.22,162.84) scale(1,1.06)" font-size="19.88" font-weight="bold">20</text>
<text transform="translate(904.22,230.37) scale(1,1.06)" font-size="19.88" font-weight="bold" clip-path="url(#c2)">10</text>
<text transform="translate(915.22,297.89) scale(1,1.06)" font-size="19.88" font-weight="bold">0</text>
<text transform="translate(897.52,365.42) scale(1,1.06)" font-size="19.88" font-weight="bold" clip-path="url(#c3)">-10</text>
<text transform="translate(960.13,391) scale(1,1.05)" font-size="19.88" font-weight="bold">Pre</text>
<text transform="translate(1020.41,391) scale(1,1.05)" font-size="19.88" font-weight="bold" clip-path="url(#c4)">T1</text>
<text transform="translate(1073.33,391) scale(1,1.05)" font-size="19.88" font-weight="bold">T3</text>
<line x1="971.4" y1="79.2" x2="1084.8" y2="79.2" stroke="#111" stroke-width="1.6"/>
<text x="1013.66" y="77" font-size="23" font-weight="bold">*</text>
<text x="1024.99" y="77" font-size="23" font-weight="bold">*</text>
<text x="1036.32" y="77" font-size="23" font-weight="bold">*</text>
<line x1="976.2" y1="103.3" x2="1030.7" y2="103.3" stroke="#111" stroke-width="1.6"/>
<text x="989.01" y="101" font-size="23" font-weight="bold">*</text>
<text x="1000.34" y="101" font-size="23" font-weight="bold">*</text>
<text x="1011.67" y="101" font-size="23" font-weight="bold">*</text>
<text transform="translate(854.4,222.8) rotate(-90)" x="-104.69" font-size="22.66" font-weight="bold">GluA concentration</text>
<text transform="translate(879.8,223.6) rotate(-90)" x="-37.84" font-size="22.66" font-weight="bold">(&#956;g/ml)</text>
</g>
<g>
<text x="1239.9" y="39.6" font-size="49.5">D</text>
<path d="M1378.4,105.71C1378.42,109.52 1378.41,113.33 1378.45,117.14C1378.47,119.05 1379.73,120.95 1380.14,122.86C1380.76,125.71 1381.57,128.57 1381.57,131.43C1381.57,134.29 1380.24,137.14 1379.71,140C1379.28,142.38 1378.57,144.76 1378.57,147.14C1378.57,149.52 1379.21,151.9 1379.43,154.29C1379.73,157.62 1380,160.95 1380.14,164.29C1380.35,169.05 1380.32,173.81 1380.57,178.57C1380.7,180.95 1381.04,183.33 1381.57,185.71C1382,187.62 1383.29,189.52 1384.43,191.43C1385.57,193.33 1387.42,195.24 1388.71,197.14C1390.01,199.05 1391.5,200.95 1392.29,202.86C1393.26,205.24 1394.43,207.62 1394.43,210C1394.43,211.43 1392.93,212.86 1392.29,214.29C1391.22,216.67 1389.81,219.05 1389.43,221.43C1389.05,223.81 1389.03,226.19 1388.71,228.57C1388.4,230.95 1387.92,233.33 1387.29,235.71C1386.65,238.1 1384.43,240.48 1384.43,242.86C1384.43,245.24 1385.14,247.62 1385.14,250C1385.14,252.38 1384.81,254.76 1384.43,257.14C1384.05,259.52 1382.32,261.9 1381.57,264.29C1380.82,266.67 1380.07,269.05 1379.71,271.43C1379.14,275.24 1378.65,279.05 1378.57,282.86C1378.5,286.19 1378.46,289.52 1378.45,292.86C1378.42,300.57 1378.42,308.29 1378.4,316L1378.4,316C1378.38,308.29 1378.38,300.57 1378.35,292.86C1378.34,289.52 1378.3,286.19 1378.23,282.86C1378.15,279.05 1377.66,275.24 1377.09,271.43C1376.73,269.05 1375.98,266.67 1375.23,264.29C1374.48,261.9 1372.75,259.52 1372.37,257.14C1371.99,254.76 1371.66,252.38 1371.66,250C1371.66,247.62 1372.37,245.24 1372.37,242.86C1372.37,240.48 1370.15,238.1 1369.51,235.71C1368.88,233.33 1368.4,230.95 1368.09,228.57C1367.77,226.19 1367.75,223.81 1367.37,221.43C1366.99,219.05 1365.58,216.67 1364.51,214.29C1363.87,212.86 1362.37,211.43 1362.37,210C1362.37,207.62 1363.54,205.24 1364.51,202.86C1365.3,200.95 1366.79,199.05 1368.09,197.14C1369.38,195.24 1371.23,193.33 1372.37,191.43C1373.51,189.52 1374.8,187.62 1375.23,185.71C1375.76,183.33 1376.1,180.95 1376.23,178.57C1376.48,173.81 1376.45,169.05 1376.66,164.29C1376.8,160.95 1377.07,157.62 1377.37,154.29C1377.59,151.9 1378.23,149.52 1378.23,147.14C1378.23,144.76 1377.52,142.38 1377.09,140C1376.56,137.14 1375.23,134.29 1375.23,131.43C1375.23,128.57 1376.04,125.71 1376.66,122.86C1377.07,120.95 1378.33,119.05 1378.35,117.14C1378.39,113.33 1378.38,109.52 1378.4,105.71Z" fill="#3b79c0" stroke="#141414" stroke-width="1.6" stroke-linejoin="round"/>
<line x1="1365.54" y1="202.57" x2="1391.26" y2="202.57" stroke="#1a1a1a" stroke-width="1.4" stroke-dasharray="1.4 2.83"/>
<line x1="1365.95" y1="215.43" x2="1390.85" y2="215.43" stroke="#111" stroke-width="1.7" stroke-dasharray="3.8 3.2"/>
<line x1="1371.31" y1="237.86" x2="1385.49" y2="237.86" stroke="#1a1a1a" stroke-width="1.4" stroke-dasharray="1.4 2.83"/>
<path d="M1429.7,119.57C1429.8,124.95 1429.8,130.33 1430.01,135.71C1430.11,138.1 1431.11,140.48 1431.44,142.86C1432.1,147.62 1432.87,152.38 1432.87,157.14C1432.87,161.9 1432.87,166.67 1432.87,171.43C1432.87,174.29 1433.28,177.14 1433.59,180C1434.05,184.29 1435.05,188.57 1435.73,192.86C1436.48,197.62 1437.3,202.38 1437.87,207.14C1438.44,211.9 1438.73,216.67 1439.3,221.43C1439.87,226.19 1440.61,230.95 1441.44,235.71C1441.86,238.1 1442.28,240.48 1442.87,242.86C1443.58,245.71 1445.73,248.57 1445.73,251.43C1445.73,253.33 1445.39,255.24 1445.01,257.14C1444.55,259.52 1442.74,261.9 1441.44,264.29C1440.14,266.67 1438.46,269.05 1437.16,271.43C1435.59,274.29 1433.9,277.14 1432.87,280C1431.84,282.86 1430.8,285.71 1430.44,288.57C1430.08,291.43 1429.77,294.29 1429.75,297.14C1429.71,303.43 1429.72,309.71 1429.7,316L1429.7,316C1429.68,309.71 1429.69,303.43 1429.65,297.14C1429.63,294.29 1429.32,291.43 1428.96,288.57C1428.6,285.71 1427.56,282.86 1426.53,280C1425.5,277.14 1423.81,274.29 1422.24,271.43C1420.94,269.05 1419.26,266.67 1417.96,264.29C1416.66,261.9 1414.85,259.52 1414.39,257.14C1414.01,255.24 1413.67,253.33 1413.67,251.43C1413.67,248.57 1415.82,245.71 1416.53,242.86C1417.12,240.48 1417.54,238.1 1417.96,235.71C1418.79,230.95 1419.53,226.19 1420.1,221.43C1420.67,216.67 1420.96,211.9 1421.53,207.14C1422.1,202.38 1422.92,197.62 1423.67,192.86C1424.35,188.57 1425.35,184.29 1425.81,180C1426.12,177.14 1426.53,174.29 1426.53,171.43C1426.53,166.67 1426.53,161.9 1426.53,157.14C1426.53,152.38 1427.3,147.62 1427.96,142.86C1428.29,140.48 1429.29,138.1 1429.39,135.71C1429.6,130.33 1429.6,124.95 1429.7,119.57Z" fill="#96d2e4" stroke="#141414" stroke-width="1.6" stroke-linejoin="round"/>
<line x1="1421.8" y1="213.29" x2="1437.6" y2="213.29" stroke="#1a1a1a" stroke-width="1.4" stroke-dasharray="1.4 2.83"/>
<line x1="1417.83" y1="241.14" x2="1441.57" y2="241.14" stroke="#111" stroke-width="1.7" stroke-dasharray="3.8 3.2"/>
<line x1="1415.29" y1="257.14" x2="1444.11" y2="257.14" stroke="#1a1a1a" stroke-width="1.4" stroke-dasharray="1.4 2.83"/>
<path d="M1481.2,113.14C1481.26,118.29 1481.27,123.43 1481.37,128.57C1481.43,131.43 1481.94,134.29 1481.94,137.14C1481.94,140 1481.37,142.86 1481.37,145.71C1481.37,150.48 1481.42,155.24 1481.51,160C1481.59,163.81 1483.42,167.62 1484.37,171.43C1485.56,176.19 1486.88,180.95 1487.94,185.71C1489,190.48 1489.64,195.24 1490.8,200C1491.5,202.86 1493.37,205.71 1493.37,208.57C1493.37,210.48 1493.37,212.38 1493.37,214.29C1493.37,216.67 1491.51,219.05 1491.51,221.43C1491.51,223.81 1491.95,226.19 1492.23,228.57C1492.79,233.33 1493.57,238.1 1494.37,242.86C1495.01,246.67 1495.77,250.48 1496.51,254.29C1496.88,256.19 1497.66,258.1 1497.66,260C1497.66,262.86 1496.76,265.71 1495.8,268.57C1494.84,271.43 1491.25,274.29 1489.37,277.14C1487.5,280 1485.9,282.86 1484.37,285.71C1483.35,287.62 1481.6,289.52 1481.51,291.43C1481.28,296.62 1481.3,301.81 1481.2,307L1481.2,307C1481.1,301.81 1481.12,296.62 1480.89,291.43C1480.8,289.52 1479.05,287.62 1478.03,285.71C1476.5,282.86 1474.9,280 1473.03,277.14C1471.15,274.29 1467.56,271.43 1466.6,268.57C1465.64,265.71 1464.74,262.86 1464.74,260C1464.74,258.1 1465.52,256.19 1465.89,254.29C1466.63,250.48 1467.39,246.67 1468.03,242.86C1468.83,238.1 1469.61,233.33 1470.17,228.57C1470.45,226.19 1470.89,223.81 1470.89,221.43C1470.89,219.05 1469.03,216.67 1469.03,214.29C1469.03,212.38 1469.03,210.48 1469.03,208.57C1469.03,205.71 1470.9,202.86 1471.6,200C1472.76,195.24 1473.4,190.48 1474.46,185.71C1475.52,180.95 1476.84,176.19 1478.03,171.43C1478.98,167.62 1480.81,163.81 1480.89,160C1480.98,155.24 1481.03,150.48 1481.03,145.71C1481.03,142.86 1480.46,140 1480.46,137.14C1480.46,134.29 1480.97,131.43 1481.03,128.57C1481.13,123.43 1481.14,118.29 1481.2,113.14Z" fill="#eff2bf" stroke="#141414" stroke-width="1.6" stroke-linejoin="round"/>
<line x1="1469.93" y1="210.86" x2="1492.47" y2="210.86" stroke="#1a1a1a" stroke-width="1.4" stroke-dasharray="1.4 2.83"/>
<line x1="1470.31" y1="234.29" x2="1492.09" y2="234.29" stroke="#111" stroke-width="1.7" stroke-dasharray="3.8 3.2"/>
<line x1="1465.65" y1="260.29" x2="1496.75" y2="260.29" stroke="#1a1a1a" stroke-width="1.4" stroke-dasharray="1.4 2.83"/>
<line x1="1351.9" y1="296.4" x2="1514.8" y2="296.4" stroke="#000" stroke-width="2.9" stroke-linecap="round" stroke-dasharray="0 7.7429"/>
<path d="M1344.6,89.85 V347.5 H1516.8" fill="none" stroke="#000" stroke-width="2.7" stroke-linecap="butt" stroke-linejoin="miter"/>
<path d="M1334.25,91.2 H1344.6 M1334.25,142.46 H1344.6 M1334.25,193.72 H1344.6 M1334.25,244.98 H1344.6 M1334.25,296.24 H1344.6 M1334.25,347.5 H1344.6 M1378.4,347.5 V358.15 M1429.7,347.5 V358.15 M1481.2,347.5 V358.15" stroke="#000" stroke-width="2.7" fill="none"/>
<text transform="translate(1310.12,98.08) scale(1,1.06)" font-size="18.82" font-weight="bold">40</text>
<text transform="translate(1310.12,149.34) scale(1,1.06)" font-size="18.82" font-weight="bold">30</text>
<text transform="translate(1310.12,200.6) scale(1,1.06)" font-size="18.82" font-weight="bold">20</text>
<text transform="translate(1310.12,251.86) scale(1,1.06)" font-size="18.82" font-weight="bold" clip-path="url(#c5)">10</text>
<text transform="translate(1320.62,303.12) scale(1,1.06)" font-size="18.82" font-weight="bold">0</text>
<text transform="translate(1303.92,354.38) scale(1,1.06)" font-size="18.82" font-weight="bold" clip-path="url(#c6)">-10</text>
<text transform="translate(1362.97,378.55) scale(1,1.05)" font-size="18.82" font-weight="bold">Pre</text>
<text transform="translate(1420.37,378.55) scale(1,1.05)" font-size="18.82" font-weight="bold" clip-path="url(#c7)">T1</text>
<text transform="translate(1470.47,378.55) scale(1,1.05)" font-size="18.82" font-weight="bold">T3</text>
<line x1="1375.8" y1="76.9" x2="1482.4" y2="76.9" stroke="#111" stroke-width="1.6"/>
<text x="1424.6" y="76" font-size="23" font-weight="bold">*</text>
<line x1="1375.8" y1="99.7" x2="1431.1" y2="99.7" stroke="#111" stroke-width="1.6"/>
<text x="1393.96" y="98" font-size="23" font-weight="bold">*</text>
<text x="1404.69" y="98" font-size="23" font-weight="bold">*</text>
<text transform="translate(1263.9,219.55) rotate(-90)" x="-89.05" font-size="21.45" font-weight="bold">Val concentration</text>
<text transform="translate(1288.9,219) rotate(-90)" x="-35.9" font-size="21.45" font-weight="bold">(&#956;g/ml)</text>
</g>
<g>
<text x="15.1" y="492.9" font-size="49.5">E</text>
<path d="M143.4,614.16C143.54,617.21 143.59,620.26 143.83,623.32C144.14,627.2 147.16,631.09 147.16,634.97C147.16,637.75 144.9,640.53 144.67,643.3C144.48,645.52 144.33,647.74 144.33,649.96C144.33,652.74 145.59,655.51 146.33,658.29C147.07,661.07 147.79,663.84 148.83,666.62C149.87,669.39 151.76,672.17 152.99,674.95C154.23,677.72 155.37,680.5 156.32,683.27C157.28,686.05 158.07,688.82 158.82,691.6C159.43,693.82 160.49,696.04 160.49,698.26C160.49,701.04 158.82,703.81 158.82,706.59C158.82,709.36 160.49,712.14 160.49,714.92C160.49,717.69 157.87,720.47 156.32,723.24C155.08,725.46 153.2,727.68 152.16,729.9C151.12,732.13 149.66,734.35 149.66,736.57C149.66,739.9 150.49,743.23 150.49,746.56C150.49,749.33 149.57,752.11 148.83,754.89C148.09,757.66 145.96,760.44 145.5,763.21C144.85,767.1 144.62,770.99 144.33,774.87C144.13,777.65 143.83,780.42 143.83,783.2C143.83,785.97 144.67,788.75 144.67,791.53C144.67,794.3 143.55,797.08 143.5,799.85C143.43,803.74 143.43,807.63 143.4,811.51L143.4,811.51C143.37,807.63 143.37,803.74 143.3,799.85C143.25,797.08 142.13,794.3 142.13,791.53C142.13,788.75 142.97,785.97 142.97,783.2C142.97,780.42 142.67,777.65 142.47,774.87C142.18,770.99 141.95,767.1 141.3,763.21C140.84,760.44 138.71,757.66 137.97,754.89C137.23,752.11 136.31,749.33 136.31,746.56C136.31,743.23 137.14,739.9 137.14,736.57C137.14,734.35 135.68,732.13 134.64,729.9C133.6,727.68 131.72,725.46 130.48,723.24C128.93,720.47 126.31,717.69 126.31,714.92C126.31,712.14 127.98,709.36 127.98,706.59C127.98,703.81 126.31,701.04 126.31,698.26C126.31,696.04 127.37,693.82 127.98,691.6C128.73,688.82 129.52,686.05 130.48,683.27C131.43,680.5 132.57,677.72 133.81,674.95C135.04,672.17 136.93,669.39 137.97,666.62C139.01,663.84 139.73,661.07 140.47,658.29C141.21,655.51 142.47,652.74 142.47,649.96C142.47,647.74 142.32,645.52 142.13,643.3C141.9,640.53 139.64,637.75 139.64,634.97C139.64,631.09 142.66,627.2 142.97,623.32C143.21,620.26 143.26,617.21 143.4,614.16Z" fill="#3b79c0" stroke="#141414" stroke-width="1.6" stroke-linejoin="round"/>
<line x1="129.57" y1="689.1" x2="157.23" y2="689.1" stroke="#1a1a1a" stroke-width="1.4" stroke-dasharray="1.4 2.83"/>
<line x1="128.88" y1="706.59" x2="157.92" y2="706.59" stroke="#111" stroke-width="1.7" stroke-dasharray="3.8 3.2"/>
<line x1="131.38" y1="723.24" x2="155.42" y2="723.24" stroke="#1a1a1a" stroke-width="1.4" stroke-dasharray="1.4 2.83"/>
<path d="M198.4,619.65C198.54,624.2 198.62,628.76 198.83,633.31C199.1,638.86 200.13,644.41 200.5,649.96C200.87,655.51 201.33,661.07 201.33,666.62C201.33,672.17 201.33,677.72 201.33,683.27C201.33,688.82 202.72,694.38 203.83,699.93C204.94,705.48 207.12,711.03 208.83,716.58C210.19,721.02 211.86,725.46 212.99,729.9C213.97,733.79 215.49,737.68 215.49,741.56C215.49,745.45 215.12,749.33 214.65,753.22C214.26,756.55 212.86,759.88 211.32,763.21C209.79,766.54 205.37,769.88 203.83,773.21C202.29,776.54 201.32,779.87 200.5,783.2C199.81,785.97 198.96,788.75 198.83,791.53C198.55,797.63 198.54,803.74 198.4,809.85L198.4,809.85C198.26,803.74 198.25,797.63 197.97,791.53C197.84,788.75 196.99,785.97 196.3,783.2C195.48,779.87 194.51,776.54 192.97,773.21C191.43,769.88 187.01,766.54 185.48,763.21C183.94,759.88 182.54,756.55 182.15,753.22C181.68,749.33 181.31,745.45 181.31,741.56C181.31,737.68 182.83,733.79 183.81,729.9C184.94,725.46 186.61,721.02 187.97,716.58C189.68,711.03 191.86,705.48 192.97,699.93C194.08,694.38 195.47,688.82 195.47,683.27C195.47,677.72 195.47,672.17 195.47,666.62C195.47,661.07 195.93,655.51 196.3,649.96C196.67,644.41 197.7,638.86 197.97,633.31C198.18,628.76 198.26,624.2 198.4,619.65Z" fill="#96d2e4" stroke="#141414" stroke-width="1.6" stroke-linejoin="round"/>
<line x1="188.87" y1="716.58" x2="207.93" y2="716.58" stroke="#1a1a1a" stroke-width="1.4" stroke-dasharray="1.4 2.83"/>
<line x1="182.54" y1="738.23" x2="214.26" y2="738.23" stroke="#111" stroke-width="1.7" stroke-dasharray="3.8 3.2"/>
<line x1="183.09" y1="753.55" x2="213.71" y2="753.55" stroke="#1a1a1a" stroke-width="1.4" stroke-dasharray="1.4 2.83"/>
<path d="M253.1,631.31C253.24,636.42 253.47,641.53 253.53,646.63C253.62,653.29 253.7,659.96 253.7,666.62C253.7,670.5 253.53,674.39 253.53,678.28C253.53,679.94 255.35,681.61 256.03,683.27C257.39,686.6 258.92,689.93 259.36,693.26C259.81,696.6 259.86,699.93 260.19,703.26C260.63,707.7 261.86,712.14 261.86,716.58C261.86,719.91 261.86,723.24 261.86,726.57C261.86,729.9 262.68,733.24 263.53,736.57C264.23,739.34 266.65,742.12 267.69,744.89C268.73,747.67 270.19,750.45 270.19,753.22C270.19,756 269.82,758.77 269.35,761.55C268.8,764.88 265.78,768.21 263.53,771.54C261.64,774.32 258.56,777.09 256.86,779.87C255.51,782.09 253.68,784.31 253.53,786.53C253.23,790.97 253.24,795.41 253.1,799.85L253.1,799.85C252.96,795.41 252.97,790.97 252.67,786.53C252.52,784.31 250.69,782.09 249.34,779.87C247.64,777.09 244.56,774.32 242.67,771.54C240.42,768.21 237.4,764.88 236.85,761.55C236.38,758.77 236.01,756 236.01,753.22C236.01,750.45 237.47,747.67 238.51,744.89C239.55,742.12 241.97,739.34 242.67,736.57C243.52,733.24 244.34,729.9 244.34,726.57C244.34,723.24 244.34,719.91 244.34,716.58C244.34,712.14 245.57,707.7 246.01,703.26C246.34,699.93 246.39,696.6 246.84,693.26C247.28,689.93 248.81,686.6 250.17,683.27C250.85,681.61 252.67,679.94 252.67,678.28C252.67,674.39 252.5,670.5 252.5,666.62C252.5,659.96 252.58,653.29 252.67,646.63C252.73,641.53 252.96,636.42 253.1,631.31Z" fill="#eff2bf" stroke="#141414" stroke-width="1.6" stroke-linejoin="round"/>
<line x1="245.24" y1="717.41" x2="260.96" y2="717.41" stroke="#1a1a1a" stroke-width="1.4" stroke-dasharray="1.4 2.83"/>
<line x1="239.22" y1="745.39" x2="266.98" y2="745.39" stroke="#111" stroke-width="1.7" stroke-dasharray="3.8 3.2"/>
<line x1="237.53" y1="760.22" x2="268.67" y2="760.22" stroke="#1a1a1a" stroke-width="1.4" stroke-dasharray="1.4 2.83"/>
<line x1="115.2" y1="792.8" x2="288.4" y2="792.8" stroke="#000" stroke-width="2.9" stroke-linecap="round" stroke-dasharray="0 8.2333"/>
<path d="M107,572.35 V847.7 H290.9" fill="none" stroke="#000" stroke-width="2.7" stroke-linecap="butt" stroke-linejoin="miter"/>
<path d="M95.93,573.7 H107 M95.93,628.5 H107 M95.93,683.3 H107 M95.93,738.1 H107 M95.93,792.9 H107 M95.93,847.7 H107 M143.4,847.7 V859.07 M198.4,847.7 V859.07 M253.1,847.7 V859.07" stroke="#000" stroke-width="2.7" fill="none"/>
<text transform="translate(70.13,581.06) scale(1,1.06)" font-size="20.12" font-weight="bold">20</text>
<text transform="translate(69.93,635.75) scale(1,1.06)" font-size="20.12" font-weight="bold" clip-path="url(#c8)">15</text>
<text transform="translate(70.13,690.66) scale(1,1.06)" font-size="20.12" font-weight="bold" clip-path="url(#c9)">10</text>
<text transform="translate(81.13,745.35) scale(1,1.06)" font-size="20.12" font-weight="bold">5</text>
<text transform="translate(81.33,800.26) scale(1,1.06)" font-size="20.12" font-weight="bold">0</text>
<text transform="translate(74.43,854.95) scale(1,1.06)" font-size="20.12" font-weight="bold">-5</text>
<text transform="translate(126.92,880.9) scale(1,1.05)" font-size="20.12" font-weight="bold">Pre</text>
<text transform="translate(188.43,880.9) scale(1,1.05)" font-size="20.12" font-weight="bold" clip-path="url(#c10)">T1</text>
<text transform="translate(241.62,880.9) scale(1,1.05)" font-size="20.12" font-weight="bold">T3</text>
<line x1="140.9" y1="579.2" x2="254.8" y2="579.2" stroke="#111" stroke-width="1.6"/>
<text x="183.29" y="577" font-size="23" font-weight="bold">*</text>
<text x="194.76" y="577" font-size="23" font-weight="bold">*</text>
<text x="206.23" y="577" font-size="23" font-weight="bold">*</text>
<line x1="140.9" y1="609.9" x2="199" y2="609.9" stroke="#111" stroke-width="1.6"/>
<text x="155.39" y="608" font-size="23" font-weight="bold">*</text>
<text x="166.86" y="608" font-size="23" font-weight="bold">*</text>
<text x="178.33" y="608" font-size="23" font-weight="bold">*</text>
<text transform="translate(25.2,709.5) rotate(-90)" x="-95.26" font-size="22.94" font-weight="bold">Tyr concentration</text>
<text transform="translate(52.2,710.8) rotate(-90)" x="-38.16" font-size="22.94" font-weight="bold">(&#956;g/ml)</text>
</g>
<g>
<text x="425.9" y="492.9" font-size="49.5">F</text>
<path d="M555.9,624.15C556.04,628.31 556.13,632.48 556.33,636.64C556.44,638.86 556.83,641.08 556.83,643.3C556.83,647.74 556.17,652.18 556.17,656.63C556.17,658.85 556.69,661.07 557.17,663.29C557.64,665.51 559.66,667.73 559.66,669.95C559.66,673.28 558.83,676.61 558.83,679.94C558.83,683.27 560.93,686.6 562.16,689.93C563.4,693.26 565.53,696.6 566.33,699.93C567.12,703.26 567.44,706.59 567.99,709.92C568.55,713.25 569.1,716.58 569.66,719.91C570.21,723.24 570.71,726.57 571.32,729.9C571.83,732.68 572.99,735.46 572.99,738.23C572.99,741.01 570.34,743.78 568.82,746.56C567.31,749.33 564.66,752.11 563.83,754.89C562.99,757.66 562.72,760.44 562.16,763.21C561.61,765.99 561.21,768.77 560.5,771.54C559.78,774.32 557.86,777.09 557.5,779.87C557.14,782.64 556.98,785.42 556.83,788.2C556.68,790.97 556.61,793.75 556.5,796.52C556.29,801.8 556.1,807.07 555.9,812.34L555.9,812.34C555.7,807.07 555.51,801.8 555.3,796.52C555.19,793.75 555.12,790.97 554.97,788.2C554.82,785.42 554.66,782.64 554.3,779.87C553.94,777.09 552.02,774.32 551.3,771.54C550.59,768.77 550.19,765.99 549.64,763.21C549.08,760.44 548.81,757.66 547.97,754.89C547.14,752.11 544.49,749.33 542.98,746.56C541.46,743.78 538.81,741.01 538.81,738.23C538.81,735.46 539.97,732.68 540.48,729.9C541.09,726.57 541.59,723.24 542.14,719.91C542.7,716.58 543.25,713.25 543.81,709.92C544.36,706.59 544.68,703.26 545.47,699.93C546.27,696.6 548.4,693.26 549.64,689.93C550.87,686.6 552.97,683.27 552.97,679.94C552.97,676.61 552.14,673.28 552.14,669.95C552.14,667.73 554.16,665.51 554.63,663.29C555.11,661.07 555.63,658.85 555.63,656.63C555.63,652.18 554.97,647.74 554.97,643.3C554.97,641.08 555.36,638.86 555.47,636.64C555.67,632.48 555.76,628.31 555.9,624.15Z" fill="#3b79c0" stroke="#141414" stroke-width="1.6" stroke-linejoin="round"/>
<line x1="545.02" y1="707.92" x2="566.78" y2="707.92" stroke="#1a1a1a" stroke-width="1.4" stroke-dasharray="1.4 2.83"/>
<line x1="541.73" y1="727.91" x2="570.07" y2="727.91" stroke="#111" stroke-width="1.7" stroke-dasharray="3.8 3.2"/>
<line x1="541.54" y1="742.9" x2="570.26" y2="742.9" stroke="#1a1a1a" stroke-width="1.4" stroke-dasharray="1.4 2.83"/>
<path d="M611,641.64C611.09,646.08 611.12,650.52 611.27,654.96C611.36,657.74 611.93,660.51 611.93,663.29C611.93,666.62 611.27,669.95 611.27,673.28C611.27,676.61 611.71,679.94 612.27,683.27C612.82,686.6 616.15,689.93 617.26,693.26C618.37,696.6 619.76,699.93 619.76,703.26C619.76,706.59 618.46,709.92 618.09,713.25C617.72,716.58 617.26,719.91 617.26,723.24C617.26,726.02 619.34,728.79 619.76,731.57C620.18,734.35 620.18,737.12 620.59,739.9C621.01,742.67 621.98,745.45 623.09,748.22C624.2,751 628.09,753.78 628.09,756.55C628.09,759.33 625.71,762.1 623.92,764.88C622.14,767.65 618.19,770.43 616.43,773.21C615.02,775.43 613.49,777.65 613.1,779.87C612.41,783.75 612.19,787.64 611.93,791.53C611.49,798.19 611.31,804.85 611,811.51L611,811.51C610.69,804.85 610.51,798.19 610.07,791.53C609.81,787.64 609.59,783.75 608.9,779.87C608.51,777.65 606.98,775.43 605.57,773.21C603.81,770.43 599.86,767.65 598.08,764.88C596.29,762.1 593.91,759.33 593.91,756.55C593.91,753.78 597.8,751 598.91,748.22C600.02,745.45 600.99,742.67 601.41,739.9C601.82,737.12 601.82,734.35 602.24,731.57C602.66,728.79 604.74,726.02 604.74,723.24C604.74,719.91 604.28,716.58 603.91,713.25C603.54,709.92 602.24,706.59 602.24,703.26C602.24,699.93 603.63,696.6 604.74,693.26C605.85,689.93 609.18,686.6 609.73,683.27C610.29,679.94 610.73,676.61 610.73,673.28C610.73,669.95 610.07,666.62 610.07,663.29C610.07,660.51 610.64,657.74 610.73,654.96C610.88,650.52 610.91,646.08 611,641.64Z" fill="#96d2e4" stroke="#141414" stroke-width="1.6" stroke-linejoin="round"/>
<line x1="604.9" y1="714.08" x2="617.1" y2="714.08" stroke="#1a1a1a" stroke-width="1.4" stroke-dasharray="1.4 2.83"/>
<line x1="602.42" y1="739.06" x2="619.58" y2="739.06" stroke="#111" stroke-width="1.7" stroke-dasharray="3.8 3.2"/>
<line x1="595.07" y1="758.22" x2="626.93" y2="758.22" stroke="#1a1a1a" stroke-width="1.4" stroke-dasharray="1.4 2.83"/>
<path d="M665.7,642.47C665.84,647.74 666.06,653.02 666.13,658.29C666.21,663.84 666.21,669.39 666.3,674.95C666.36,678.83 666.45,682.72 666.63,686.6C666.79,689.93 667.22,693.26 667.8,696.6C668.37,699.93 669.9,703.26 671.13,706.59C672.36,709.92 674.4,713.25 675.29,716.58C676.03,719.36 676.96,722.13 676.96,724.91C676.96,727.68 675.29,730.46 675.29,733.24C675.29,736.01 675.68,738.79 676.13,741.56C676.57,744.34 678.52,747.11 679.46,749.89C680.76,753.78 682.79,757.66 682.79,761.55C682.79,764.32 680.41,767.1 678.62,769.88C677.2,772.1 674.59,774.32 672.79,776.54C671,778.76 668.51,780.98 667.8,783.2C666.9,785.97 666.31,788.75 666.13,791.53C665.88,795.41 665.84,799.3 665.7,803.18L665.7,803.18C665.56,799.3 665.52,795.41 665.27,791.53C665.09,788.75 664.5,785.97 663.6,783.2C662.89,780.98 660.4,778.76 658.61,776.54C656.81,774.32 654.2,772.1 652.78,769.88C650.99,767.1 648.61,764.32 648.61,761.55C648.61,757.66 650.64,753.78 651.94,749.89C652.88,747.11 654.83,744.34 655.27,741.56C655.72,738.79 656.11,736.01 656.11,733.24C656.11,730.46 654.44,727.68 654.44,724.91C654.44,722.13 655.37,719.36 656.11,716.58C657,713.25 659.04,709.92 660.27,706.59C661.5,703.26 663.03,699.93 663.6,696.6C664.18,693.26 664.61,689.93 664.77,686.6C664.95,682.72 665.04,678.83 665.1,674.95C665.19,669.39 665.19,663.84 665.27,658.29C665.34,653.02 665.56,647.74 665.7,642.47Z" fill="#eff2bf" stroke="#141414" stroke-width="1.6" stroke-linejoin="round"/>
<line x1="655.34" y1="724.91" x2="676.06" y2="724.91" stroke="#1a1a1a" stroke-width="1.4" stroke-dasharray="1.4 2.83"/>
<line x1="654.13" y1="746.89" x2="677.27" y2="746.89" stroke="#111" stroke-width="1.7" stroke-dasharray="3.8 3.2"/>
<line x1="649.68" y1="762.88" x2="681.72" y2="762.88" stroke="#1a1a1a" stroke-width="1.4" stroke-dasharray="1.4 2.83"/>
<line x1="527.4" y1="793.4" x2="701" y2="793.4" stroke="#000" stroke-width="2.9" stroke-linecap="round" stroke-dasharray="0 8.2524"/>
<path d="M519.35,572.05 V848.5 H703.5" fill="none" stroke="#000" stroke-width="2.7" stroke-linecap="butt" stroke-linejoin="miter"/>
<path d="M508.24,573.4 H519.35 M508.24,628.42 H519.35 M508.24,683.44 H519.35 M508.24,738.46 H519.35 M508.24,793.48 H519.35 M508.24,848.5 H519.35 M555.9,848.5 V859.91 M611,848.5 V859.91 M665.7,848.5 V859.91" stroke="#000" stroke-width="2.7" fill="none"/>
<text transform="translate(482.4,580.77) scale(1,1.06)" font-size="20.2" font-weight="bold">20</text>
<text transform="translate(482.1,635.68) scale(1,1.06)" font-size="20.2" font-weight="bold" clip-path="url(#c11)">15</text>
<text transform="translate(482.4,690.81) scale(1,1.06)" font-size="20.2" font-weight="bold" clip-path="url(#c12)">10</text>
<text transform="translate(493.3,745.72) scale(1,1.06)" font-size="20.2" font-weight="bold">5</text>
<text transform="translate(493.6,800.85) scale(1,1.06)" font-size="20.2" font-weight="bold">0</text>
<text transform="translate(486.6,855.76) scale(1,1.06)" font-size="20.2" font-weight="bold">-5</text>
<text transform="translate(539.3,881.83) scale(1,1.05)" font-size="20.2" font-weight="bold">Pre</text>
<text transform="translate(600.97,881.83) scale(1,1.05)" font-size="20.2" font-weight="bold" clip-path="url(#c13)">T1</text>
<text transform="translate(654.2,881.83) scale(1,1.05)" font-size="20.2" font-weight="bold">T3</text>
<line x1="553.2" y1="611" x2="667.7" y2="611" stroke="#111" stroke-width="1.6"/>
<text x="600.6" y="609" font-size="23" font-weight="bold">*</text>
<text x="612.11" y="609" font-size="23" font-weight="bold">*</text>
<text transform="translate(436.9,710.8) rotate(-90)" x="-100.32" font-size="23.03" font-weight="bold">Phe concentration</text>
<text transform="translate(463,711.2) rotate(-90)" x="-38.27" font-size="23.03" font-weight="bold">(&#956;g/ml)</text>
</g>
<g>
<text x="832" y="492.9" font-size="49.5">G</text>
<path d="M976.3,664.64C976.44,669.19 976.49,673.74 976.73,678.29C976.82,679.96 977.23,681.63 977.23,683.29C977.23,685.51 976.73,687.73 976.73,689.95C976.73,691.62 978.09,693.28 978.4,694.95C979.01,698.28 979.56,701.61 979.56,704.94C979.56,707.72 978.4,710.49 978.4,713.27C978.4,717.15 979.92,721.04 980.9,724.93C981.6,727.7 982.73,730.48 983.39,733.25C984.06,736.03 984.39,738.81 985.06,741.58C985.73,744.36 986.61,747.13 987.56,749.91C988.51,752.68 989.82,755.46 990.89,758.24C991.75,760.46 993.39,762.68 993.39,764.9C993.39,767.67 991.47,770.45 990.06,773.22C988.64,776 986.06,778.78 984.23,781.55C982.76,783.77 980.06,785.99 980.06,788.21C980.06,790.43 980.9,792.65 980.9,794.88C980.9,797.1 979.9,799.32 979.23,801.54C978.56,803.76 976.89,805.98 976.73,808.2C976.45,812.09 976.44,815.97 976.3,819.86L976.3,819.86C976.16,815.97 976.15,812.09 975.87,808.2C975.71,805.98 974.04,803.76 973.37,801.54C972.7,799.32 971.7,797.1 971.7,794.88C971.7,792.65 972.54,790.43 972.54,788.21C972.54,785.99 969.84,783.77 968.37,781.55C966.54,778.78 963.96,776 962.54,773.22C961.13,770.45 959.21,767.67 959.21,764.9C959.21,762.68 960.85,760.46 961.71,758.24C962.78,755.46 964.09,752.68 965.04,749.91C965.99,747.13 966.87,744.36 967.54,741.58C968.21,738.81 968.54,736.03 969.21,733.25C969.87,730.48 971,727.7 971.7,724.93C972.68,721.04 974.2,717.15 974.2,713.27C974.2,710.49 973.04,707.72 973.04,704.94C973.04,701.61 973.59,698.28 974.2,694.95C974.51,693.28 975.87,691.62 975.87,689.95C975.87,687.73 975.37,685.51 975.37,683.29C975.37,681.63 975.78,679.96 975.87,678.29C976.11,673.74 976.16,669.19 976.3,664.64Z" fill="#3b79c0" stroke="#141414" stroke-width="1.6" stroke-linejoin="round"/>
<line x1="968.36" y1="741.91" x2="984.24" y2="741.91" stroke="#1a1a1a" stroke-width="1.4" stroke-dasharray="1.4 2.83"/>
<line x1="960.68" y1="762.4" x2="991.92" y2="762.4" stroke="#111" stroke-width="1.7" stroke-dasharray="3.8 3.2"/>
<line x1="963.44" y1="773.22" x2="989.16" y2="773.22" stroke="#1a1a1a" stroke-width="1.4" stroke-dasharray="1.4 2.83"/>
<path d="M1030.6,658.64C1030.69,662.97 1030.68,667.3 1030.87,671.63C1030.94,673.3 1031.87,674.96 1031.87,676.63C1031.87,679.4 1031.03,682.18 1031.03,684.96C1031.03,689.95 1031.03,694.95 1031.03,699.95C1031.03,702.72 1032.5,705.5 1033.53,708.27C1034.77,711.6 1037.42,714.93 1038.53,718.26C1039.64,721.6 1041.03,724.93 1041.03,728.26C1041.03,731.03 1039.36,733.81 1039.36,736.58C1039.36,739.36 1041.44,742.14 1041.86,744.91C1042.27,747.69 1042.69,750.46 1042.69,753.24C1042.69,756.02 1042.69,758.79 1042.69,761.57C1042.69,764.34 1046.85,767.12 1046.85,769.89C1046.85,772.67 1045.4,775.45 1044.36,778.22C1043.32,781 1041.81,783.77 1040.19,786.55C1038.57,789.32 1035.97,792.1 1034.36,794.88C1033.08,797.1 1031.21,799.32 1031.03,801.54C1030.75,805.15 1030.74,808.75 1030.6,812.36L1030.6,812.36C1030.46,808.75 1030.45,805.15 1030.17,801.54C1029.99,799.32 1028.12,797.1 1026.84,794.88C1025.23,792.1 1022.63,789.32 1021.01,786.55C1019.39,783.77 1017.88,781 1016.84,778.22C1015.8,775.45 1014.35,772.67 1014.35,769.89C1014.35,767.12 1018.51,764.34 1018.51,761.57C1018.51,758.79 1018.51,756.02 1018.51,753.24C1018.51,750.46 1018.93,747.69 1019.34,744.91C1019.76,742.14 1021.84,739.36 1021.84,736.58C1021.84,733.81 1020.17,731.03 1020.17,728.26C1020.17,724.93 1021.56,721.6 1022.67,718.26C1023.78,714.93 1026.43,711.6 1027.67,708.27C1028.7,705.5 1030.17,702.72 1030.17,699.95C1030.17,694.95 1030.17,689.95 1030.17,684.96C1030.17,682.18 1029.33,679.4 1029.33,676.63C1029.33,674.96 1030.26,673.3 1030.33,671.63C1030.52,667.3 1030.51,662.97 1030.6,658.64Z" fill="#96d2e4" stroke="#141414" stroke-width="1.6" stroke-linejoin="round"/>
<line x1="1022.69" y1="735.75" x2="1038.51" y2="735.75" stroke="#1a1a1a" stroke-width="1.4" stroke-dasharray="1.4 2.83"/>
<line x1="1019.41" y1="753.74" x2="1041.79" y2="753.74" stroke="#111" stroke-width="1.7" stroke-dasharray="3.8 3.2"/>
<line x1="1015.41" y1="771.56" x2="1045.79" y2="771.56" stroke="#1a1a1a" stroke-width="1.4" stroke-dasharray="1.4 2.83"/>
<path d="M1085.3,638.32C1085.44,643.88 1085.44,649.43 1085.73,654.98C1085.85,657.2 1087.08,659.42 1087.4,661.64C1087.8,664.42 1088.23,667.19 1088.23,669.97C1088.23,672.74 1087.4,675.52 1087.4,678.29C1087.4,682.74 1088.79,687.18 1089.9,691.62C1091.01,696.06 1093.11,700.5 1094.89,704.94C1096.45,708.83 1099.06,712.71 1099.89,716.6C1100.72,720.49 1101.55,724.37 1101.55,728.26C1101.55,732.7 1100.93,737.14 1100.72,741.58C1100.51,746.02 1100.22,750.46 1100.22,754.9C1100.22,758.24 1100.22,761.57 1100.22,764.9C1100.22,768.23 1099.63,771.56 1099.06,774.89C1098.48,778.22 1096.84,781.55 1095.73,784.88C1094.62,788.21 1093.5,791.54 1092.39,794.88C1091.28,798.21 1090.17,801.54 1089.06,804.87C1087.95,808.2 1085.88,811.53 1085.73,814.86C1085.43,821.8 1085.44,828.74 1085.3,835.68L1085.3,835.68C1085.16,828.74 1085.17,821.8 1084.87,814.86C1084.72,811.53 1082.65,808.2 1081.54,804.87C1080.43,801.54 1079.32,798.21 1078.21,794.88C1077.1,791.54 1075.98,788.21 1074.87,784.88C1073.76,781.55 1072.12,778.22 1071.54,774.89C1070.97,771.56 1070.38,768.23 1070.38,764.9C1070.38,761.57 1070.38,758.24 1070.38,754.9C1070.38,750.46 1070.09,746.02 1069.88,741.58C1069.67,737.14 1069.05,732.7 1069.05,728.26C1069.05,724.37 1069.88,720.49 1070.71,716.6C1071.54,712.71 1074.15,708.83 1075.71,704.94C1077.49,700.5 1079.59,696.06 1080.7,691.62C1081.81,687.18 1083.2,682.74 1083.2,678.29C1083.2,675.52 1082.37,672.74 1082.37,669.97C1082.37,667.19 1082.8,664.42 1083.2,661.64C1083.52,659.42 1084.75,657.2 1084.87,654.98C1085.16,649.43 1085.16,643.88 1085.3,638.32Z" fill="#eff2bf" stroke="#141414" stroke-width="1.6" stroke-linejoin="round"/>
<line x1="1070.47" y1="722.43" x2="1100.13" y2="722.43" stroke="#1a1a1a" stroke-width="1.4" stroke-dasharray="1.4 2.83"/>
<line x1="1070.97" y1="745.41" x2="1099.63" y2="745.41" stroke="#111" stroke-width="1.7" stroke-dasharray="3.8 3.2"/>
<line x1="1071.54" y1="769.06" x2="1099.06" y2="769.06" stroke="#1a1a1a" stroke-width="1.4" stroke-dasharray="1.4 2.83"/>
<path d="M939.75,574.65 V848.4 H1122.6" fill="none" stroke="#000" stroke-width="2.7" stroke-linecap="butt" stroke-linejoin="miter"/>
<path d="M928.75,576 H939.75 M928.75,644.1 H939.75 M928.75,712.2 H939.75 M928.75,780.3 H939.75 M928.75,848.4 H939.75 M976.3,848.4 V859.7 M1030.6,848.4 V859.7 M1085.3,848.4 V859.7" stroke="#000" stroke-width="2.7" fill="none"/>
<text transform="translate(903.15,583.31) scale(1,1.06)" font-size="20" font-weight="bold">40</text>
<text transform="translate(903.15,651.41) scale(1,1.06)" font-size="20" font-weight="bold">30</text>
<text transform="translate(903.15,719.51) scale(1,1.06)" font-size="20" font-weight="bold">20</text>
<text transform="translate(903.15,787.61) scale(1,1.06)" font-size="20" font-weight="bold" clip-path="url(#c14)">10</text>
<text transform="translate(914.25,855.71) scale(1,1.06)" font-size="20" font-weight="bold">0</text>
<text transform="translate(959.9,881.4) scale(1,1.05)" font-size="20" font-weight="bold">Pre</text>
<text transform="translate(1020.67,881.4) scale(1,1.05)" font-size="20" font-weight="bold" clip-path="url(#c15)">T1</text>
<text transform="translate(1073.9,881.4) scale(1,1.05)" font-size="20" font-weight="bold">T3</text>
<line x1="975.8" y1="614.9" x2="1090.9" y2="614.9" stroke="#111" stroke-width="1.6"/>
<text x="1028.85" y="613" font-size="23" font-weight="bold">*</text>
<text transform="translate(856.9,711.2) rotate(-90)" x="-96.55" font-size="22.8" font-weight="bold">Ser concentration</text>
<text transform="translate(883,711.2) rotate(-90)" x="-38" font-size="22.8" font-weight="bold">(&#956;g/ml)</text>
</g>
<g>
<text x="1237.9" y="492.9" font-size="49.5">H</text>
<path d="M1383.9,684.11C1384.04,687.17 1384.12,690.22 1384.33,693.27C1384.6,697.16 1386,701.04 1386,704.93C1386,708.26 1384.33,711.59 1384.33,714.92C1384.33,717.7 1388.16,720.47 1388.16,723.25C1388.16,725.47 1386,727.69 1386,729.91C1386,732.13 1386,734.35 1386,736.57C1386,738.79 1387.29,741.02 1388.5,743.24C1389.71,745.46 1393.09,747.68 1395.16,749.9C1397.23,752.12 1400.99,754.34 1400.99,756.56C1400.99,758.78 1395.99,761 1395.99,763.22C1395.99,765.44 1398.49,767.66 1398.49,769.88C1398.49,772.1 1395.4,774.32 1393.49,776.54C1391.59,778.77 1388.29,780.99 1386.83,783.21C1385.74,784.87 1384.5,786.54 1384.33,788.2C1384.05,790.98 1384.04,793.75 1383.9,796.53L1383.9,796.53C1383.76,793.75 1383.75,790.98 1383.47,788.2C1383.3,786.54 1382.06,784.87 1380.97,783.21C1379.51,780.99 1376.21,778.77 1374.31,776.54C1372.4,774.32 1369.31,772.1 1369.31,769.88C1369.31,767.66 1371.81,765.44 1371.81,763.22C1371.81,761 1366.81,758.78 1366.81,756.56C1366.81,754.34 1370.57,752.12 1372.64,749.9C1374.71,747.68 1378.09,745.46 1379.3,743.24C1380.51,741.02 1381.8,738.79 1381.8,736.57C1381.8,734.35 1381.8,732.13 1381.8,729.91C1381.8,727.69 1379.64,725.47 1379.64,723.25C1379.64,720.47 1383.47,717.7 1383.47,714.92C1383.47,711.59 1381.8,708.26 1381.8,704.93C1381.8,701.04 1383.2,697.16 1383.47,693.27C1383.68,690.22 1383.76,687.17 1383.9,684.11Z" fill="#3b79c0" stroke="#141414" stroke-width="1.6" stroke-linejoin="round"/>
<line x1="1375.67" y1="747.9" x2="1392.13" y2="747.9" stroke="#1a1a1a" stroke-width="1.4" stroke-dasharray="1.4 2.83"/>
<line x1="1367.93" y1="757.39" x2="1399.87" y2="757.39" stroke="#111" stroke-width="1.7" stroke-dasharray="3.8 3.2"/>
<line x1="1370.6" y1="768.22" x2="1397.2" y2="768.22" stroke="#1a1a1a" stroke-width="1.4" stroke-dasharray="1.4 2.83"/>
<path d="M1438.2,679.62C1438.62,683.06 1438.81,686.5 1439.47,689.94C1440.1,693.27 1442.24,696.6 1443.63,699.93C1445.02,703.26 1446.15,706.6 1447.79,709.93C1449.17,712.7 1452.31,715.48 1452.79,718.25C1453.26,721.03 1453.62,723.81 1453.62,726.58C1453.62,729.36 1453.07,732.13 1452.79,734.91C1452.51,737.68 1451.96,740.46 1451.96,743.24C1451.96,746.01 1452.44,748.79 1452.79,751.56C1453.2,754.89 1454.45,758.22 1454.45,761.56C1454.45,764.33 1453.22,767.11 1451.96,769.88C1450.95,772.1 1448.2,774.32 1446.13,776.54C1444.05,778.77 1439.99,780.99 1439.47,783.21C1438.68,786.54 1438.62,789.87 1438.2,793.2L1438.2,793.2C1437.78,789.87 1437.72,786.54 1436.93,783.21C1436.41,780.99 1432.35,778.77 1430.27,776.54C1428.2,774.32 1425.45,772.1 1424.44,769.88C1423.18,767.11 1421.95,764.33 1421.95,761.56C1421.95,758.22 1423.2,754.89 1423.61,751.56C1423.96,748.79 1424.44,746.01 1424.44,743.24C1424.44,740.46 1423.89,737.68 1423.61,734.91C1423.33,732.13 1422.78,729.36 1422.78,726.58C1422.78,723.81 1423.14,721.03 1423.61,718.25C1424.09,715.48 1427.23,712.7 1428.61,709.93C1430.25,706.6 1431.38,703.26 1432.77,699.93C1434.16,696.6 1436.3,693.27 1436.93,689.94C1437.59,686.5 1437.78,683.06 1438.2,679.62Z" fill="#96d2e4" stroke="#141414" stroke-width="1.6" stroke-linejoin="round"/>
<line x1="1423.79" y1="723.75" x2="1452.61" y2="723.75" stroke="#1a1a1a" stroke-width="1.4" stroke-dasharray="1.4 2.83"/>
<line x1="1424.92" y1="738.24" x2="1451.48" y2="738.24" stroke="#111" stroke-width="1.7" stroke-dasharray="3.8 3.2"/>
<line x1="1423.05" y1="759.06" x2="1453.35" y2="759.06" stroke="#1a1a1a" stroke-width="1.4" stroke-dasharray="1.4 2.83"/>
<path d="M1492.9,624.16C1492.99,630.54 1493.09,636.92 1493.17,643.31C1493.23,648.86 1493.25,654.41 1493.33,659.96C1493.42,665.51 1493.49,671.07 1493.83,676.62C1494.01,679.39 1496.73,682.17 1497.5,684.95C1498.26,687.72 1499.16,690.5 1499.16,693.27C1499.16,696.6 1497.5,699.93 1497.5,703.26C1497.5,706.6 1498.33,709.93 1499.16,713.26C1499.99,716.59 1503.05,719.92 1504.16,723.25C1505.27,726.58 1506.24,729.91 1506.66,733.24C1507.07,736.57 1507.21,739.9 1507.49,743.24C1507.77,746.57 1507.92,749.9 1508.32,753.23C1508.65,756 1509.99,758.78 1509.99,761.56C1509.99,764.33 1508.03,767.11 1506.66,769.88C1505,773.21 1502.35,776.54 1499.99,779.88C1498.42,782.1 1496,784.32 1495,786.54C1494.24,788.2 1493.44,789.87 1493.33,791.53C1493.02,796.53 1493.04,801.53 1492.9,806.52L1492.9,806.52C1492.76,801.53 1492.78,796.53 1492.47,791.53C1492.36,789.87 1491.56,788.2 1490.8,786.54C1489.8,784.32 1487.38,782.1 1485.81,779.88C1483.45,776.54 1480.8,773.21 1479.14,769.88C1477.77,767.11 1475.81,764.33 1475.81,761.56C1475.81,758.78 1477.15,756 1477.48,753.23C1477.88,749.9 1478.03,746.57 1478.31,743.24C1478.59,739.9 1478.73,736.57 1479.14,733.24C1479.56,729.91 1480.53,726.58 1481.64,723.25C1482.75,719.92 1485.81,716.59 1486.64,713.26C1487.47,709.93 1488.3,706.6 1488.3,703.26C1488.3,699.93 1486.64,696.6 1486.64,693.27C1486.64,690.5 1487.54,687.72 1488.3,684.95C1489.07,682.17 1491.79,679.39 1491.97,676.62C1492.31,671.07 1492.38,665.51 1492.47,659.96C1492.55,654.41 1492.57,648.86 1492.63,643.31C1492.71,636.92 1492.81,630.54 1492.9,624.16Z" fill="#eff2bf" stroke="#141414" stroke-width="1.6" stroke-linejoin="round"/>
<line x1="1483.41" y1="721.25" x2="1502.39" y2="721.25" stroke="#1a1a1a" stroke-width="1.4" stroke-dasharray="1.4 2.83"/>
<line x1="1479.28" y1="742.4" x2="1506.52" y2="742.4" stroke="#111" stroke-width="1.7" stroke-dasharray="3.8 3.2"/>
<line x1="1476.85" y1="759.89" x2="1508.95" y2="759.89" stroke="#1a1a1a" stroke-width="1.4" stroke-dasharray="1.4 2.83"/>
<line x1="1355.8" y1="790.5" x2="1527.9" y2="790.5" stroke="#000" stroke-width="2.9" stroke-linecap="round" stroke-dasharray="0 8.1810"/>
<path d="M1347.5,571.45 V845.2 H1530" fill="none" stroke="#000" stroke-width="2.7" stroke-linecap="butt" stroke-linejoin="miter"/>
<path d="M1336.48,572.8 H1347.5 M1336.48,627.28 H1347.5 M1336.48,681.76 H1347.5 M1336.48,736.24 H1347.5 M1336.48,790.72 H1347.5 M1336.48,845.2 H1347.5 M1383.9,845.2 V856.52 M1438.2,845.2 V856.52 M1492.9,845.2 V856.52" stroke="#000" stroke-width="2.7" fill="none"/>
<text transform="translate(1310.81,580.09) scale(1,1.06)" font-size="20.04" font-weight="bold">80</text>
<text transform="translate(1310.81,634.57) scale(1,1.06)" font-size="20.04" font-weight="bold">60</text>
<text transform="translate(1310.81,689.05) scale(1,1.06)" font-size="20.04" font-weight="bold">40</text>
<text transform="translate(1310.81,743.53) scale(1,1.06)" font-size="20.04" font-weight="bold">20</text>
<text transform="translate(1322.01,798.01) scale(1,1.06)" font-size="20.04" font-weight="bold">0</text>
<text transform="translate(1304.21,852.49) scale(1,1.06)" font-size="20.04" font-weight="bold">-20</text>
<text transform="translate(1367.49,878.27) scale(1,1.05)" font-size="20.04" font-weight="bold">Pre</text>
<text transform="translate(1428.27,878.27) scale(1,1.05)" font-size="20.04" font-weight="bold" clip-path="url(#c16)">T1</text>
<text transform="translate(1481.49,878.27) scale(1,1.05)" font-size="20.04" font-weight="bold">T3</text>
<line x1="1379.3" y1="604.6" x2="1494" y2="604.6" stroke="#111" stroke-width="1.6"/>
<text x="1426.84" y="602" font-size="23" font-weight="bold">*</text>
<text x="1438.26" y="602" font-size="23" font-weight="bold">*</text>
<line x1="1382.6" y1="665.3" x2="1439.8" y2="665.3" stroke="#111" stroke-width="1.6"/>
<text x="1396.68" y="663" font-size="23" font-weight="bold">*</text>
<text x="1408.1" y="663" font-size="23" font-weight="bold">*</text>
<text x="1419.53" y="663" font-size="23" font-weight="bold">*</text>
<text transform="translate(1260.2,707.9) rotate(-90)" x="-96.6" font-size="22.85" font-weight="bold">Gly concentration</text>
<text transform="translate(1286.4,709.1) rotate(-90)" x="-38" font-size="22.85" font-weight="bold">(&#956;g/ml)</text>
</g>
<g>
<text x="16.7" y="992" font-size="49.5">I</text>
<path d="M142.1,1078.3C142.24,1081.07 142.33,1083.85 142.53,1086.63C142.7,1088.85 143.37,1091.07 143.37,1093.29C143.37,1095.51 142.37,1097.73 142.37,1099.95C142.37,1103.83 142.41,1107.72 142.53,1111.61C142.59,1113.27 144.4,1114.94 145.03,1116.6C145.87,1118.82 146.83,1121.04 147.03,1123.26C147.33,1126.6 147.36,1129.93 147.53,1133.26C147.7,1136.59 147.73,1139.92 148.03,1143.25C148.23,1145.47 149.19,1147.69 150.03,1149.91C150.86,1152.13 152.41,1154.35 153.36,1156.57C154.31,1158.79 155.19,1161.02 155.86,1163.24C156.52,1165.46 156.88,1167.68 157.52,1169.9C158,1171.56 159.19,1173.23 159.19,1174.89C159.19,1177.11 157.52,1179.33 156.69,1181.56C155.86,1183.78 155.3,1186 154.19,1188.22C153.08,1190.44 150.99,1192.66 149.19,1194.88C147.4,1197.1 144.16,1199.32 143.37,1201.54C142.77,1203.21 142.25,1204.87 142.2,1206.54C142.14,1208.48 142.13,1210.42 142.1,1212.37L142.1,1212.37C142.07,1210.42 142.06,1208.48 142,1206.54C141.95,1204.87 141.43,1203.21 140.83,1201.54C140.04,1199.32 136.8,1197.1 135.01,1194.88C133.21,1192.66 131.12,1190.44 130.01,1188.22C128.9,1186 128.34,1183.78 127.51,1181.56C126.68,1179.33 125.01,1177.11 125.01,1174.89C125.01,1173.23 126.2,1171.56 126.68,1169.9C127.32,1167.68 127.68,1165.46 128.34,1163.24C129.01,1161.02 129.89,1158.79 130.84,1156.57C131.79,1154.35 133.34,1152.13 134.17,1149.91C135.01,1147.69 135.97,1145.47 136.17,1143.25C136.47,1139.92 136.5,1136.59 136.67,1133.26C136.84,1129.93 136.87,1126.6 137.17,1123.26C137.37,1121.04 138.33,1118.82 139.17,1116.6C139.8,1114.94 141.61,1113.27 141.67,1111.61C141.79,1107.72 141.83,1103.83 141.83,1099.95C141.83,1097.73 140.83,1095.51 140.83,1093.29C140.83,1091.07 141.5,1088.85 141.67,1086.63C141.87,1083.85 141.96,1081.07 142.1,1078.3Z" fill="#3b79c0" stroke="#141414" stroke-width="1.6" stroke-linejoin="round"/>
<line x1="133.45" y1="1153.24" x2="150.75" y2="1153.24" stroke="#1a1a1a" stroke-width="1.4" stroke-dasharray="1.4 2.83"/>
<line x1="127.72" y1="1169.4" x2="156.48" y2="1169.4" stroke="#111" stroke-width="1.7" stroke-dasharray="3.8 3.2"/>
<line x1="127.25" y1="1179.06" x2="156.95" y2="1179.06" stroke="#1a1a1a" stroke-width="1.4" stroke-dasharray="1.4 2.83"/>
<path d="M195.8,1085.46C195.94,1089.18 196.02,1092.9 196.23,1096.62C196.39,1099.39 197.07,1102.17 197.07,1104.95C197.07,1110.5 197.07,1116.05 197.07,1121.6C197.07,1124.38 196.23,1127.15 196.23,1129.93C196.23,1132.15 196.44,1134.37 196.73,1136.59C197.03,1138.81 199.41,1141.03 200.4,1143.25C201.39,1145.47 202.37,1147.69 202.89,1149.91C203.68,1153.24 203.95,1156.57 204.56,1159.9C205.07,1162.68 205.56,1165.46 206.23,1168.23C206.89,1171.01 207.77,1173.78 208.72,1176.56C209.68,1179.33 212.05,1182.11 212.05,1184.89C212.05,1187.66 209.28,1190.44 207.89,1193.21C206.23,1196.54 204.56,1199.88 202.89,1203.21C201.23,1206.54 199.2,1209.87 197.9,1213.2C197.25,1214.86 196.35,1216.53 196.23,1218.2C195.94,1222.36 195.94,1226.52 195.8,1230.69L195.8,1230.69C195.66,1226.52 195.66,1222.36 195.37,1218.2C195.25,1216.53 194.35,1214.86 193.7,1213.2C192.4,1209.87 190.37,1206.54 188.71,1203.21C187.04,1199.88 185.37,1196.54 183.71,1193.21C182.32,1190.44 179.55,1187.66 179.55,1184.89C179.55,1182.11 181.92,1179.33 182.88,1176.56C183.83,1173.78 184.71,1171.01 185.37,1168.23C186.04,1165.46 186.53,1162.68 187.04,1159.9C187.65,1156.57 187.92,1153.24 188.71,1149.91C189.23,1147.69 190.21,1145.47 191.2,1143.25C192.19,1141.03 194.57,1138.81 194.87,1136.59C195.16,1134.37 195.37,1132.15 195.37,1129.93C195.37,1127.15 194.53,1124.38 194.53,1121.6C194.53,1116.05 194.53,1110.5 194.53,1104.95C194.53,1102.17 195.21,1099.39 195.37,1096.62C195.58,1092.9 195.66,1089.18 195.8,1085.46Z" fill="#96d2e4" stroke="#141414" stroke-width="1.6" stroke-linejoin="round"/>
<line x1="188.06" y1="1159.24" x2="203.54" y2="1159.24" stroke="#1a1a1a" stroke-width="1.4" stroke-dasharray="1.4 2.83"/>
<line x1="183.66" y1="1176.89" x2="207.94" y2="1176.89" stroke="#111" stroke-width="1.7" stroke-dasharray="3.8 3.2"/>
<line x1="181.08" y1="1187.38" x2="210.52" y2="1187.38" stroke="#1a1a1a" stroke-width="1.4" stroke-dasharray="1.4 2.83"/>
<path d="M249.4,1056.65C249.49,1059.98 249.53,1063.31 249.67,1066.64C249.78,1069.42 250.33,1072.19 250.33,1074.97C250.33,1077.74 249.67,1080.52 249.67,1083.29C249.67,1088.85 249.82,1094.4 250,1099.95C250.18,1105.5 251.5,1111.05 251.5,1116.6C251.5,1119.93 251,1123.26 251,1126.6C251,1128.82 253.14,1131.04 254,1133.26C255.28,1136.59 256.59,1139.92 257.33,1143.25C258.07,1146.58 258.08,1149.91 258.99,1153.24C259.6,1155.46 262.12,1157.68 263.16,1159.9C264.2,1162.13 265.65,1164.35 265.65,1166.57C265.65,1169.9 264.73,1173.23 263.99,1176.56C263.25,1179.89 261.77,1183.22 260.66,1186.55C259.55,1189.88 258.56,1193.21 257.33,1196.54C256.09,1199.88 254.2,1203.21 253.16,1206.54C252.12,1209.87 251.34,1213.2 250.67,1216.53C250.21,1218.75 249.53,1220.97 249.5,1223.19C249.43,1227.91 249.43,1232.63 249.4,1237.35L249.4,1237.35C249.37,1232.63 249.37,1227.91 249.3,1223.19C249.27,1220.97 248.59,1218.75 248.13,1216.53C247.46,1213.2 246.68,1209.87 245.64,1206.54C244.6,1203.21 242.71,1199.88 241.47,1196.54C240.24,1193.21 239.25,1189.88 238.14,1186.55C237.03,1183.22 235.55,1179.89 234.81,1176.56C234.07,1173.23 233.15,1169.9 233.15,1166.57C233.15,1164.35 234.6,1162.13 235.64,1159.9C236.68,1157.68 239.2,1155.46 239.81,1153.24C240.72,1149.91 240.73,1146.58 241.47,1143.25C242.21,1139.92 243.52,1136.59 244.8,1133.26C245.66,1131.04 247.8,1128.82 247.8,1126.6C247.8,1123.26 247.3,1119.93 247.3,1116.6C247.3,1111.05 248.62,1105.5 248.8,1099.95C248.98,1094.4 249.13,1088.85 249.13,1083.29C249.13,1080.52 248.47,1077.74 248.47,1074.97C248.47,1072.19 249.02,1069.42 249.13,1066.64C249.27,1063.31 249.31,1059.98 249.4,1056.65Z" fill="#eff2bf" stroke="#141414" stroke-width="1.6" stroke-linejoin="round"/>
<line x1="241.28" y1="1150.58" x2="257.52" y2="1150.58" stroke="#1a1a1a" stroke-width="1.4" stroke-dasharray="1.4 2.83"/>
<line x1="234.08" y1="1167.73" x2="264.72" y2="1167.73" stroke="#111" stroke-width="1.7" stroke-dasharray="3.8 3.2"/>
<line x1="237.97" y1="1183.55" x2="260.83" y2="1183.55" stroke="#1a1a1a" stroke-width="1.4" stroke-dasharray="1.4 2.83"/>
<line x1="114.3" y1="1235.1" x2="283.8" y2="1235.1" stroke="#000" stroke-width="2.9" stroke-linecap="round" stroke-dasharray="0 8.0571"/>
<path d="M106.35,1032.95 V1302.3 H286.3" fill="none" stroke="#000" stroke-width="2.7" stroke-linecap="butt" stroke-linejoin="miter"/>
<path d="M95.49,1034.3 H106.35 M95.49,1101.3 H106.35 M95.49,1168.3 H106.35 M95.49,1235.3 H106.35 M95.49,1302.3 H106.35 M142.1,1302.3 V1313.46 M195.8,1302.3 V1313.46 M249.4,1302.3 V1313.46" stroke="#000" stroke-width="2.7" fill="none"/>
<text transform="translate(70.19,1041.49) scale(1,1.06)" font-size="19.74" font-weight="bold">30</text>
<text transform="translate(70.19,1108.49) scale(1,1.06)" font-size="19.74" font-weight="bold">20</text>
<text transform="translate(70.19,1175.49) scale(1,1.06)" font-size="19.74" font-weight="bold" clip-path="url(#c17)">10</text>
<text transform="translate(81.19,1242.49) scale(1,1.06)" font-size="19.74" font-weight="bold">0</text>
<text transform="translate(63.59,1309.49) scale(1,1.06)" font-size="19.74" font-weight="bold" clip-path="url(#c18)">-10</text>
<text transform="translate(125.94,1334.87) scale(1,1.05)" font-size="19.74" font-weight="bold">Pre</text>
<text transform="translate(186.02,1334.87) scale(1,1.05)" font-size="19.74" font-weight="bold" clip-path="url(#c19)">T1</text>
<text transform="translate(238.14,1334.87) scale(1,1.05)" font-size="19.74" font-weight="bold">T3</text>
<line x1="139.6" y1="1058.1" x2="204.6" y2="1058.1" stroke="#111" stroke-width="1.6"/>
<text x="167.6" y="1056" font-size="23" font-weight="bold">*</text>
<text transform="translate(20.4,1167.9) rotate(-90)" x="-95.05" font-size="22.5" font-weight="bold">Thr concentration</text>
<text transform="translate(46.5,1167.4) rotate(-90)" x="-37.5" font-size="22.5" font-weight="bold">(&#956;g/ml)</text>
</g>
<g>
<text x="428.9" y="992" font-size="49.5">J</text>
<path d="M552.2,1074.65C552.29,1077.54 552.31,1080.42 552.47,1083.31C552.58,1085.53 553.47,1087.75 553.47,1089.97C553.47,1092.75 552.47,1095.52 552.47,1098.3C552.47,1107.74 552.47,1117.17 552.47,1126.61C552.47,1128.83 554.28,1131.05 554.8,1133.27C555.32,1135.49 555.96,1137.71 555.96,1139.93C555.96,1143.26 553.94,1146.6 553.47,1149.93C553.07,1152.7 552.63,1155.48 552.63,1158.25C552.63,1161.03 554.73,1163.81 555.96,1166.58C557.2,1169.36 558.89,1172.13 560.13,1174.91C561.36,1177.68 562.35,1180.46 563.46,1183.24C564.57,1186.01 565.64,1188.79 566.79,1191.56C567.59,1193.51 569.29,1195.45 569.29,1197.39C569.29,1199.89 564.81,1202.39 564.29,1204.89C563.83,1207.11 563.83,1209.33 563.46,1211.55C563.09,1213.77 562.52,1215.99 561.79,1218.21C560.88,1220.99 559.02,1223.76 557.63,1226.54C556.52,1228.76 554.94,1230.98 554.3,1233.2C553.49,1235.97 552.77,1238.75 552.63,1241.53C552.35,1247.08 552.34,1252.63 552.2,1258.18L552.2,1258.18C552.06,1252.63 552.05,1247.08 551.77,1241.53C551.63,1238.75 550.91,1235.97 550.1,1233.2C549.46,1230.98 547.88,1228.76 546.77,1226.54C545.38,1223.76 543.52,1220.99 542.61,1218.21C541.88,1215.99 541.31,1213.77 540.94,1211.55C540.57,1209.33 540.57,1207.11 540.11,1204.89C539.59,1202.39 535.11,1199.89 535.11,1197.39C535.11,1195.45 536.81,1193.51 537.61,1191.56C538.76,1188.79 539.83,1186.01 540.94,1183.24C542.05,1180.46 543.04,1177.68 544.27,1174.91C545.51,1172.13 547.2,1169.36 548.44,1166.58C549.67,1163.81 551.77,1161.03 551.77,1158.25C551.77,1155.48 551.33,1152.7 550.93,1149.93C550.46,1146.6 548.44,1143.26 548.44,1139.93C548.44,1137.71 549.08,1135.49 549.6,1133.27C550.12,1131.05 551.93,1128.83 551.93,1126.61C551.93,1117.17 551.93,1107.74 551.93,1098.3C551.93,1095.52 550.93,1092.75 550.93,1089.97C550.93,1087.75 551.82,1085.53 551.93,1083.31C552.09,1080.42 552.11,1077.54 552.2,1074.65Z" fill="#3b79c0" stroke="#141414" stroke-width="1.6" stroke-linejoin="round"/>
<line x1="540.65" y1="1186.23" x2="563.75" y2="1186.23" stroke="#1a1a1a" stroke-width="1.4" stroke-dasharray="1.4 2.83"/>
<line x1="536.07" y1="1197.89" x2="568.33" y2="1197.89" stroke="#111" stroke-width="1.7" stroke-dasharray="3.8 3.2"/>
<line x1="542.16" y1="1213.21" x2="562.24" y2="1213.21" stroke="#1a1a1a" stroke-width="1.4" stroke-dasharray="1.4 2.83"/>
<path d="M607.3,1081.98C607.44,1086.86 607.53,1091.75 607.73,1096.63C607.9,1100.52 608.44,1104.4 608.57,1108.29C608.74,1113.84 608.9,1119.39 608.9,1124.95C608.9,1130.5 608.9,1136.05 608.9,1141.6C608.9,1144.38 609.88,1147.15 610.23,1149.93C610.93,1155.48 611.23,1161.03 611.9,1166.58C612.56,1172.13 613.24,1177.68 614.39,1183.24C614.97,1186.01 615.85,1188.79 616.89,1191.56C617.93,1194.34 620.02,1197.11 621.06,1199.89C622.1,1202.67 622.69,1205.44 623.55,1208.22C623.99,1209.61 624.89,1210.99 624.89,1212.38C624.89,1214.88 623.12,1217.38 621.89,1219.88C620.24,1223.21 617.3,1226.54 615.23,1229.87C613.15,1233.2 610.69,1236.53 609.4,1239.86C608.54,1242.08 607.43,1244.3 607.4,1246.52C607.33,1251.24 607.33,1255.96 607.3,1260.68L607.3,1260.68C607.27,1255.96 607.27,1251.24 607.2,1246.52C607.17,1244.3 606.06,1242.08 605.2,1239.86C603.91,1236.53 601.45,1233.2 599.37,1229.87C597.3,1226.54 594.36,1223.21 592.71,1219.88C591.48,1217.38 589.71,1214.88 589.71,1212.38C589.71,1210.99 590.61,1209.61 591.05,1208.22C591.91,1205.44 592.5,1202.67 593.54,1199.89C594.58,1197.11 596.67,1194.34 597.71,1191.56C598.75,1188.79 599.63,1186.01 600.21,1183.24C601.36,1177.68 602.04,1172.13 602.7,1166.58C603.37,1161.03 603.67,1155.48 604.37,1149.93C604.72,1147.15 605.7,1144.38 605.7,1141.6C605.7,1136.05 605.7,1130.5 605.7,1124.95C605.7,1119.39 605.86,1113.84 606.03,1108.29C606.16,1104.4 606.7,1100.52 606.87,1096.63C607.07,1091.75 607.16,1086.86 607.3,1081.98Z" fill="#96d2e4" stroke="#141414" stroke-width="1.6" stroke-linejoin="round"/>
<line x1="601.59" y1="1180.74" x2="613.01" y2="1180.74" stroke="#1a1a1a" stroke-width="1.4" stroke-dasharray="1.4 2.83"/>
<line x1="592.67" y1="1205.72" x2="621.93" y2="1205.72" stroke="#111" stroke-width="1.7" stroke-dasharray="3.8 3.2"/>
<line x1="591.69" y1="1216.21" x2="622.91" y2="1216.21" stroke="#1a1a1a" stroke-width="1.4" stroke-dasharray="1.4 2.83"/>
<path d="M662.7,1119.95C662.84,1123.28 662.9,1126.61 663.13,1129.94C663.36,1133.27 664.8,1136.6 664.8,1139.93C664.8,1143.26 663.13,1146.6 663.13,1149.93C663.13,1152.7 663.5,1155.48 663.97,1158.25C664.43,1161.03 667.19,1163.81 668.13,1166.58C669.25,1169.91 670.16,1173.24 670.63,1176.57C671.02,1179.35 671.04,1182.13 671.46,1184.9C671.88,1187.68 673.96,1190.45 673.96,1193.23C673.96,1195.45 672.29,1197.67 672.29,1199.89C672.29,1203.22 672.61,1206.55 673.13,1209.88C673.47,1212.1 676.25,1214.32 677.29,1216.54C678.33,1218.77 679.79,1220.99 679.79,1223.21C679.79,1225.98 676.24,1228.76 673.96,1231.53C671.67,1234.31 667.43,1237.09 665.63,1239.86C664.55,1241.53 663.27,1243.19 663.13,1244.86C662.83,1248.47 662.84,1252.07 662.7,1255.68L662.7,1255.68C662.56,1252.07 662.57,1248.47 662.27,1244.86C662.13,1243.19 660.85,1241.53 659.77,1239.86C657.97,1237.09 653.73,1234.31 651.44,1231.53C649.16,1228.76 645.61,1225.98 645.61,1223.21C645.61,1220.99 647.07,1218.77 648.11,1216.54C649.15,1214.32 651.93,1212.1 652.27,1209.88C652.79,1206.55 653.11,1203.22 653.11,1199.89C653.11,1197.67 651.44,1195.45 651.44,1193.23C651.44,1190.45 653.52,1187.68 653.94,1184.9C654.36,1182.13 654.38,1179.35 654.77,1176.57C655.24,1173.24 656.15,1169.91 657.27,1166.58C658.21,1163.81 660.97,1161.03 661.43,1158.25C661.9,1155.48 662.27,1152.7 662.27,1149.93C662.27,1146.6 660.6,1143.26 660.6,1139.93C660.6,1136.6 662.04,1133.27 662.27,1129.94C662.5,1126.61 662.56,1123.28 662.7,1119.95Z" fill="#eff2bf" stroke="#141414" stroke-width="1.6" stroke-linejoin="round"/>
<line x1="653.23" y1="1189.56" x2="672.17" y2="1189.56" stroke="#1a1a1a" stroke-width="1.4" stroke-dasharray="1.4 2.83"/>
<line x1="652.94" y1="1210.72" x2="672.46" y2="1210.72" stroke="#111" stroke-width="1.7" stroke-dasharray="3.8 3.2"/>
<line x1="646.53" y1="1223.54" x2="678.87" y2="1223.54" stroke="#1a1a1a" stroke-width="1.4" stroke-dasharray="1.4 2.83"/>
<line x1="523" y1="1243" x2="698.6" y2="1243" stroke="#000" stroke-width="2.9" stroke-linecap="round" stroke-dasharray="0 8.3476"/>
<path d="M514.8,1034.05 V1312.2 H700.7" fill="none" stroke="#000" stroke-width="2.7" stroke-linecap="butt" stroke-linejoin="miter"/>
<path d="M503.57,1035.4 H514.8 M503.57,1104.6 H514.8 M503.57,1173.8 H514.8 M503.57,1243 H514.8 M503.57,1312.2 H514.8 M552.2,1312.2 V1323.73 M607.3,1312.2 V1323.73 M662.7,1312.2 V1323.73" stroke="#000" stroke-width="2.7" fill="none"/>
<text transform="translate(477.1,1042.76) scale(1,1.06)" font-size="20.42" font-weight="bold" clip-path="url(#c20)">15</text>
<text transform="translate(477.4,1112.06) scale(1,1.06)" font-size="20.42" font-weight="bold" clip-path="url(#c21)">10</text>
<text transform="translate(488.5,1181.16) scale(1,1.06)" font-size="20.42" font-weight="bold">5</text>
<text transform="translate(488.8,1250.46) scale(1,1.06)" font-size="20.42" font-weight="bold">0</text>
<text transform="translate(481.7,1319.56) scale(1,1.06)" font-size="20.42" font-weight="bold">-5</text>
<text transform="translate(535.37,1345.89) scale(1,1.05)" font-size="20.42" font-weight="bold">Pre</text>
<text transform="translate(597.18,1345.89) scale(1,1.05)" font-size="20.42" font-weight="bold" clip-path="url(#c22)">T1</text>
<text transform="translate(651.07,1345.89) scale(1,1.05)" font-size="20.42" font-weight="bold">T3</text>
<line x1="547.9" y1="1059.7" x2="667.8" y2="1059.7" stroke="#111" stroke-width="1.6"/>
<text x="603.35" y="1057" font-size="23" font-weight="bold">*</text>
<text transform="translate(434.4,1172.9) rotate(-90)" x="-93.27" font-size="23.28" font-weight="bold">Ile concentration</text>
<text transform="translate(461.3,1173.7) rotate(-90)" x="-38.87" font-size="23.28" font-weight="bold">(&#956;g/ml)</text>
</g>
<g>
<text x="820.1" y="992" font-size="49.5">K</text>
<path d="M967,1095.81C967.14,1098.31 967.22,1100.8 967.43,1103.3C967.71,1106.63 969.1,1109.96 969.1,1113.29C969.1,1116.07 967.43,1118.85 967.43,1121.62C967.43,1123.84 968.27,1126.06 968.27,1128.28C968.27,1130.5 967.27,1132.72 967.27,1134.95C967.27,1138.83 967.27,1142.72 967.27,1146.6C967.27,1148.82 968.27,1151.04 968.27,1153.26C968.27,1155.49 967.43,1157.71 967.43,1159.93C967.43,1161.59 969.36,1163.26 969.6,1164.92C970,1167.7 969.9,1170.47 970.26,1173.25C970.56,1175.47 971.48,1177.69 972.43,1179.91C973.38,1182.13 975.2,1184.35 976.59,1186.57C977.98,1188.79 980.76,1191.02 980.76,1193.24C980.76,1194.9 980.76,1196.57 980.76,1198.23C980.76,1199.9 984.09,1201.56 984.09,1203.23C984.09,1205.45 981.99,1207.67 980.76,1209.89C979.52,1212.11 977.98,1214.33 976.59,1216.55C975.2,1218.77 973.76,1220.99 972.43,1223.21C971.1,1225.43 969.39,1227.65 968.6,1229.88C968,1231.54 967.38,1233.21 967.27,1234.87C967.1,1237.37 967.09,1239.87 967,1242.37L967,1242.37C966.91,1239.87 966.9,1237.37 966.73,1234.87C966.62,1233.21 966,1231.54 965.4,1229.88C964.61,1227.65 962.9,1225.43 961.57,1223.21C960.24,1220.99 958.8,1218.77 957.41,1216.55C956.02,1214.33 954.48,1212.11 953.24,1209.89C952.01,1207.67 949.91,1205.45 949.91,1203.23C949.91,1201.56 953.24,1199.9 953.24,1198.23C953.24,1196.57 953.24,1194.9 953.24,1193.24C953.24,1191.02 956.02,1188.79 957.41,1186.57C958.8,1184.35 960.62,1182.13 961.57,1179.91C962.52,1177.69 963.44,1175.47 963.74,1173.25C964.1,1170.47 964,1167.7 964.4,1164.92C964.64,1163.26 966.57,1161.59 966.57,1159.93C966.57,1157.71 965.73,1155.49 965.73,1153.26C965.73,1151.04 966.73,1148.82 966.73,1146.6C966.73,1142.72 966.73,1138.83 966.73,1134.95C966.73,1132.72 965.73,1130.5 965.73,1128.28C965.73,1126.06 966.57,1123.84 966.57,1121.62C966.57,1118.85 964.9,1116.07 964.9,1113.29C964.9,1109.96 966.29,1106.63 966.57,1103.3C966.78,1100.8 966.86,1098.31 967,1095.81Z" fill="#3b79c0" stroke="#141414" stroke-width="1.6" stroke-linejoin="round"/>
<line x1="957.07" y1="1188.24" x2="976.93" y2="1188.24" stroke="#1a1a1a" stroke-width="1.4" stroke-dasharray="1.4 2.83"/>
<line x1="954.14" y1="1198.23" x2="979.86" y2="1198.23" stroke="#111" stroke-width="1.7" stroke-dasharray="3.8 3.2"/>
<line x1="952.02" y1="1206.56" x2="981.98" y2="1206.56" stroke="#1a1a1a" stroke-width="1.4" stroke-dasharray="1.4 2.83"/>
<path d="M1020.8,1083.32C1020.94,1086.65 1020.99,1089.98 1021.23,1093.31C1021.39,1095.53 1022.4,1097.75 1022.4,1099.97C1022.4,1102.75 1021.07,1105.52 1021.07,1108.3C1021.07,1111.63 1021.62,1114.96 1022.07,1118.29C1022.44,1121.07 1023.73,1123.84 1023.73,1126.62C1023.73,1129.39 1022.9,1132.17 1022.9,1134.95C1022.9,1137.72 1024.06,1140.5 1024.06,1143.27C1024.06,1146.6 1021.73,1149.93 1021.73,1153.26C1021.73,1159.93 1021.73,1166.59 1021.73,1173.25C1021.73,1175.47 1025.68,1177.69 1027.06,1179.91C1028.78,1182.69 1030.43,1185.46 1031.23,1188.24C1032.02,1191.02 1032.39,1193.79 1032.89,1196.57C1033.19,1198.23 1033.35,1199.9 1033.72,1201.56C1034.23,1203.78 1035.5,1206 1036.22,1208.22C1036.85,1210.17 1037.89,1212.11 1037.89,1214.05C1037.89,1216.55 1036.11,1219.05 1034.56,1221.55C1033.18,1223.77 1029.9,1225.99 1027.89,1228.21C1025.89,1230.43 1022.99,1232.65 1022.4,1234.87C1021.44,1238.48 1021.33,1242.09 1020.8,1245.7L1020.8,1245.7C1020.27,1242.09 1020.16,1238.48 1019.2,1234.87C1018.61,1232.65 1015.71,1230.43 1013.71,1228.21C1011.7,1225.99 1008.42,1223.77 1007.04,1221.55C1005.49,1219.05 1003.71,1216.55 1003.71,1214.05C1003.71,1212.11 1004.75,1210.17 1005.38,1208.22C1006.1,1206 1007.37,1203.78 1007.88,1201.56C1008.25,1199.9 1008.41,1198.23 1008.71,1196.57C1009.21,1193.79 1009.58,1191.02 1010.37,1188.24C1011.17,1185.46 1012.82,1182.69 1014.54,1179.91C1015.92,1177.69 1019.87,1175.47 1019.87,1173.25C1019.87,1166.59 1019.87,1159.93 1019.87,1153.26C1019.87,1149.93 1017.54,1146.6 1017.54,1143.27C1017.54,1140.5 1018.7,1137.72 1018.7,1134.95C1018.7,1132.17 1017.87,1129.39 1017.87,1126.62C1017.87,1123.84 1019.16,1121.07 1019.53,1118.29C1019.98,1114.96 1020.53,1111.63 1020.53,1108.3C1020.53,1105.52 1019.2,1102.75 1019.2,1099.97C1019.2,1097.75 1020.21,1095.53 1020.37,1093.31C1020.61,1089.98 1020.66,1086.65 1020.8,1083.32Z" fill="#96d2e4" stroke="#141414" stroke-width="1.6" stroke-linejoin="round"/>
<line x1="1011.54" y1="1187.41" x2="1030.06" y2="1187.41" stroke="#1a1a1a" stroke-width="1.4" stroke-dasharray="1.4 2.83"/>
<line x1="1009.15" y1="1199.56" x2="1032.45" y2="1199.56" stroke="#111" stroke-width="1.7" stroke-dasharray="3.8 3.2"/>
<line x1="1004.61" y1="1214.05" x2="1036.99" y2="1214.05" stroke="#1a1a1a" stroke-width="1.4" stroke-dasharray="1.4 2.83"/>
<path d="M1074.4,1098.31C1074.42,1100.53 1074.42,1102.75 1074.45,1104.97C1074.49,1107.85 1075,1110.74 1075,1113.63C1075,1116.29 1074.45,1118.96 1074.45,1121.62C1074.45,1123.29 1074.45,1124.95 1074.45,1126.62C1074.45,1129.39 1075,1132.17 1075,1134.95C1075,1137.72 1074.45,1140.5 1074.45,1143.27C1074.45,1146.16 1074.45,1149.05 1074.45,1151.93C1074.45,1154.04 1074.88,1156.15 1075.17,1158.26C1075.39,1159.93 1075.72,1161.59 1076,1163.26C1076.73,1167.7 1077.28,1172.14 1078.16,1176.58C1078.83,1179.91 1080,1183.24 1080.66,1186.57C1081.33,1189.9 1081.72,1193.24 1082.33,1196.57C1082.83,1199.34 1083.2,1202.12 1083.99,1204.89C1084.79,1207.67 1086.55,1210.45 1088.16,1213.22C1089.12,1214.89 1091.49,1216.55 1091.49,1218.22C1091.49,1220.99 1088.18,1223.77 1085.66,1226.54C1083.64,1228.77 1079.36,1230.99 1077.33,1233.21C1076.32,1234.32 1074.97,1235.43 1074.83,1236.54C1074.53,1239.04 1074.54,1241.53 1074.4,1244.03L1074.4,1244.03C1074.26,1241.53 1074.27,1239.04 1073.97,1236.54C1073.83,1235.43 1072.48,1234.32 1071.47,1233.21C1069.44,1230.99 1065.16,1228.77 1063.14,1226.54C1060.62,1223.77 1057.31,1220.99 1057.31,1218.22C1057.31,1216.55 1059.68,1214.89 1060.64,1213.22C1062.25,1210.45 1064.01,1207.67 1064.81,1204.89C1065.6,1202.12 1065.97,1199.34 1066.47,1196.57C1067.08,1193.24 1067.47,1189.9 1068.14,1186.57C1068.8,1183.24 1069.97,1179.91 1070.64,1176.58C1071.52,1172.14 1072.07,1167.7 1072.8,1163.26C1073.08,1161.59 1073.41,1159.93 1073.63,1158.26C1073.92,1156.15 1074.35,1154.04 1074.35,1151.93C1074.35,1149.05 1074.35,1146.16 1074.35,1143.27C1074.35,1140.5 1073.8,1137.72 1073.8,1134.95C1073.8,1132.17 1074.35,1129.39 1074.35,1126.62C1074.35,1124.95 1074.35,1123.29 1074.35,1121.62C1074.35,1118.96 1073.8,1116.29 1073.8,1113.63C1073.8,1110.74 1074.31,1107.85 1074.35,1104.97C1074.38,1102.75 1074.38,1100.53 1074.4,1098.31Z" fill="#eff2bf" stroke="#141414" stroke-width="1.6" stroke-linejoin="round"/>
<line x1="1068.18" y1="1191.57" x2="1080.62" y2="1191.57" stroke="#1a1a1a" stroke-width="1.4" stroke-dasharray="1.4 2.83"/>
<line x1="1065.26" y1="1206.23" x2="1083.54" y2="1206.23" stroke="#111" stroke-width="1.7" stroke-dasharray="3.8 3.2"/>
<line x1="1058.21" y1="1218.22" x2="1090.59" y2="1218.22" stroke="#1a1a1a" stroke-width="1.4" stroke-dasharray="1.4 2.83"/>
<line x1="939.3" y1="1235" x2="1108.8" y2="1235" stroke="#000" stroke-width="2.9" stroke-linecap="round" stroke-dasharray="0 8.0571"/>
<path d="M931.4,1032.95 V1302.3 H1111.1" fill="none" stroke="#000" stroke-width="2.7" stroke-linecap="butt" stroke-linejoin="miter"/>
<path d="M920.54,1034.3 H931.4 M920.54,1101.3 H931.4 M920.54,1168.3 H931.4 M920.54,1235.3 H931.4 M920.54,1302.3 H931.4 M967,1302.3 V1313.46 M1020.8,1302.3 V1313.46 M1074.4,1302.3 V1313.46" stroke="#000" stroke-width="2.7" fill="none"/>
<text transform="translate(895.24,1041.49) scale(1,1.06)" font-size="19.74" font-weight="bold">60</text>
<text transform="translate(895.24,1108.49) scale(1,1.06)" font-size="19.74" font-weight="bold">40</text>
<text transform="translate(895.24,1175.49) scale(1,1.06)" font-size="19.74" font-weight="bold">20</text>
<text transform="translate(906.24,1242.49) scale(1,1.06)" font-size="19.74" font-weight="bold">0</text>
<text transform="translate(888.64,1309.49) scale(1,1.06)" font-size="19.74" font-weight="bold">-20</text>
<text transform="translate(950.84,1334.87) scale(1,1.05)" font-size="19.74" font-weight="bold">Pre</text>
<text transform="translate(1011.02,1334.87) scale(1,1.05)" font-size="19.74" font-weight="bold" clip-path="url(#c23)">T1</text>
<text transform="translate(1063.14,1334.87) scale(1,1.05)" font-size="19.74" font-weight="bold">T3</text>
<line x1="964.1" y1="1063.3" x2="1081.1" y2="1063.3" stroke="#111" stroke-width="1.6"/>
<text x="1018.1" y="1061" font-size="23" font-weight="bold">*</text>
<text transform="translate(844.4,1167.1) rotate(-90)" x="-97.6" font-size="22.5" font-weight="bold">Leu concentration</text>
<text transform="translate(870.6,1167.4) rotate(-90)" x="-37.5" font-size="22.5" font-weight="bold">(&#956;g/ml)</text>
</g>
<g>
<text x="1237.1" y="992" font-size="49.5">L</text>
<path d="M1376.3,1084.15C1376.39,1087.2 1376.42,1090.26 1376.57,1093.31C1376.67,1095.53 1377.23,1097.75 1377.23,1099.97C1377.23,1102.75 1376.4,1105.52 1376.4,1108.3C1376.4,1122.18 1376.4,1136.06 1376.4,1149.93C1376.4,1153.26 1377.9,1156.6 1377.9,1159.93C1377.9,1162.7 1376.73,1165.48 1376.73,1168.25C1376.73,1171.03 1378.4,1173.81 1378.4,1176.58C1378.4,1179.36 1377.57,1182.13 1377.57,1184.91C1377.57,1186.57 1379.02,1188.24 1380.06,1189.9C1381.1,1191.57 1383.85,1193.24 1384.23,1194.9C1384.73,1197.12 1385.06,1199.34 1385.06,1201.56C1385.06,1203.23 1385.06,1204.89 1385.06,1206.56C1385.06,1208.78 1387.44,1211 1388.39,1213.22C1389.34,1215.44 1390.06,1217.66 1390.89,1219.88C1391.72,1222.1 1393.39,1224.32 1393.39,1226.54C1393.39,1228.77 1391.07,1230.99 1389.22,1233.21C1387.37,1235.43 1383.1,1237.65 1380.9,1239.87C1379.25,1241.53 1376.85,1243.2 1376.73,1244.86C1376.41,1249.58 1376.44,1254.3 1376.3,1259.02L1376.3,1259.02C1376.16,1254.3 1376.19,1249.58 1375.87,1244.86C1375.75,1243.2 1373.35,1241.53 1371.7,1239.87C1369.5,1237.65 1365.23,1235.43 1363.38,1233.21C1361.53,1230.99 1359.21,1228.77 1359.21,1226.54C1359.21,1224.32 1360.88,1222.1 1361.71,1219.88C1362.54,1217.66 1363.26,1215.44 1364.21,1213.22C1365.16,1211 1367.54,1208.78 1367.54,1206.56C1367.54,1204.89 1367.54,1203.23 1367.54,1201.56C1367.54,1199.34 1367.87,1197.12 1368.37,1194.9C1368.75,1193.24 1371.5,1191.57 1372.54,1189.9C1373.58,1188.24 1375.03,1186.57 1375.03,1184.91C1375.03,1182.13 1374.2,1179.36 1374.2,1176.58C1374.2,1173.81 1375.87,1171.03 1375.87,1168.25C1375.87,1165.48 1374.7,1162.7 1374.7,1159.93C1374.7,1156.6 1376.2,1153.26 1376.2,1149.93C1376.2,1136.06 1376.2,1122.18 1376.2,1108.3C1376.2,1105.52 1375.37,1102.75 1375.37,1099.97C1375.37,1097.75 1375.93,1095.53 1376.03,1093.31C1376.18,1090.26 1376.21,1087.2 1376.3,1084.15Z" fill="#3b79c0" stroke="#141414" stroke-width="1.6" stroke-linejoin="round"/>
<line x1="1368.53" y1="1199.56" x2="1384.07" y2="1199.56" stroke="#1a1a1a" stroke-width="1.4" stroke-dasharray="1.4 2.83"/>
<line x1="1363.82" y1="1216.55" x2="1388.78" y2="1216.55" stroke="#111" stroke-width="1.7" stroke-dasharray="3.8 3.2"/>
<line x1="1360.13" y1="1226.21" x2="1392.47" y2="1226.21" stroke="#1a1a1a" stroke-width="1.4" stroke-dasharray="1.4 2.83"/>
<path d="M1431.4,1166.59C1431.93,1167.98 1432.66,1169.36 1433,1170.75C1433.47,1172.7 1434,1174.64 1434,1176.58C1434,1178.52 1433.27,1180.47 1433,1182.41C1432.8,1183.8 1432.5,1185.19 1432.5,1186.57C1432.5,1188.24 1434,1189.9 1434,1191.57C1434,1193.24 1433.3,1194.9 1433,1196.57C1432.7,1198.23 1432.17,1199.9 1432.17,1201.56C1432.17,1203.23 1432.73,1204.89 1433,1206.56C1433.22,1207.95 1433.4,1209.33 1433.66,1210.72C1433.93,1212.11 1434.13,1213.5 1434.66,1214.89C1435.09,1216 1436.5,1217.11 1437.66,1218.22C1438.82,1219.33 1440.59,1220.44 1441.83,1221.55C1443.06,1222.66 1444.17,1223.77 1445.16,1224.88C1446.4,1226.27 1448.49,1227.65 1448.49,1229.04C1448.49,1230.99 1445,1232.93 1442.66,1234.87C1440.65,1236.54 1437.14,1238.2 1435.16,1239.87C1433.85,1240.98 1431.97,1242.09 1431.83,1243.2C1431.52,1245.7 1431.54,1248.2 1431.4,1250.69L1431.4,1250.69C1431.26,1248.2 1431.28,1245.7 1430.97,1243.2C1430.83,1242.09 1428.95,1240.98 1427.64,1239.87C1425.66,1238.2 1422.15,1236.54 1420.14,1234.87C1417.8,1232.93 1414.31,1230.99 1414.31,1229.04C1414.31,1227.65 1416.4,1226.27 1417.64,1224.88C1418.63,1223.77 1419.74,1222.66 1420.97,1221.55C1422.21,1220.44 1423.98,1219.33 1425.14,1218.22C1426.3,1217.11 1427.71,1216 1428.14,1214.89C1428.67,1213.5 1428.87,1212.11 1429.14,1210.72C1429.4,1209.33 1429.58,1207.95 1429.8,1206.56C1430.07,1204.89 1430.63,1203.23 1430.63,1201.56C1430.63,1199.9 1430.1,1198.23 1429.8,1196.57C1429.5,1194.9 1428.8,1193.24 1428.8,1191.57C1428.8,1189.9 1430.3,1188.24 1430.3,1186.57C1430.3,1185.19 1430,1183.8 1429.8,1182.41C1429.53,1180.47 1428.8,1178.52 1428.8,1176.58C1428.8,1174.64 1429.33,1172.7 1429.8,1170.75C1430.14,1169.36 1430.87,1167.98 1431.4,1166.59Z" fill="#96d2e4" stroke="#141414" stroke-width="1.6" stroke-linejoin="round"/>
<line x1="1417.37" y1="1226.04" x2="1445.43" y2="1226.04" stroke="#111" stroke-width="1.7" stroke-dasharray="3.8 3.2"/>
<line x1="1416.77" y1="1231.54" x2="1446.03" y2="1231.54" stroke="#1a1a1a" stroke-width="1.4" stroke-dasharray="1.4 2.83"/>
<path d="M1486.8,1128.62C1486.94,1131.28 1487.01,1133.95 1487.23,1136.61C1487.37,1138.28 1488.07,1139.94 1488.07,1141.61C1488.07,1144.38 1487.07,1147.16 1487.07,1149.93C1487.07,1153.26 1487.26,1156.6 1487.4,1159.93C1487.52,1162.7 1487.77,1165.48 1487.9,1168.25C1488.03,1171.03 1488.1,1173.81 1488.23,1176.58C1488.37,1179.36 1488.47,1182.13 1488.73,1184.91C1488.99,1187.68 1489.72,1190.46 1490.56,1193.24C1491.41,1196.01 1493.18,1198.79 1494.73,1201.56C1495.97,1203.78 1497.85,1206 1498.89,1208.22C1499.93,1210.45 1500.42,1212.67 1501.39,1214.89C1501.87,1216 1503.05,1217.11 1503.05,1218.22C1503.05,1220.44 1501.39,1222.66 1501.39,1224.88C1501.39,1227.1 1503.89,1229.32 1503.89,1231.54C1503.89,1233.76 1500.54,1235.98 1498.06,1238.2C1496.19,1239.87 1492.54,1241.53 1490.56,1243.2C1489.25,1244.31 1487.38,1245.42 1487.23,1246.53C1486.93,1248.75 1486.94,1250.97 1486.8,1253.19L1486.8,1253.19C1486.66,1250.97 1486.67,1248.75 1486.37,1246.53C1486.22,1245.42 1484.35,1244.31 1483.04,1243.2C1481.06,1241.53 1477.41,1239.87 1475.54,1238.2C1473.06,1235.98 1469.71,1233.76 1469.71,1231.54C1469.71,1229.32 1472.21,1227.1 1472.21,1224.88C1472.21,1222.66 1470.55,1220.44 1470.55,1218.22C1470.55,1217.11 1471.73,1216 1472.21,1214.89C1473.18,1212.67 1473.67,1210.45 1474.71,1208.22C1475.75,1206 1477.63,1203.78 1478.87,1201.56C1480.42,1198.79 1482.19,1196.01 1483.04,1193.24C1483.88,1190.46 1484.61,1187.68 1484.87,1184.91C1485.13,1182.13 1485.23,1179.36 1485.37,1176.58C1485.5,1173.81 1485.57,1171.03 1485.7,1168.25C1485.83,1165.48 1486.08,1162.7 1486.2,1159.93C1486.34,1156.6 1486.53,1153.26 1486.53,1149.93C1486.53,1147.16 1485.53,1144.38 1485.53,1141.61C1485.53,1139.94 1486.23,1138.28 1486.37,1136.61C1486.59,1133.95 1486.66,1131.28 1486.8,1128.62Z" fill="#eff2bf" stroke="#141414" stroke-width="1.6" stroke-linejoin="round"/>
<line x1="1475.38" y1="1208.72" x2="1498.22" y2="1208.72" stroke="#1a1a1a" stroke-width="1.4" stroke-dasharray="1.4 2.83"/>
<line x1="1471.45" y1="1218.22" x2="1502.15" y2="1218.22" stroke="#111" stroke-width="1.7" stroke-dasharray="3.8 3.2"/>
<line x1="1470.63" y1="1231.21" x2="1502.97" y2="1231.21" stroke="#1a1a1a" stroke-width="1.4" stroke-dasharray="1.4 2.83"/>
<line x1="1347.4" y1="1243" x2="1522.7" y2="1243" stroke="#000" stroke-width="2.9" stroke-linecap="round" stroke-dasharray="0 8.3333"/>
<path d="M1339.4,1033.95 V1312.4 H1524.6" fill="none" stroke="#000" stroke-width="2.7" stroke-linecap="butt" stroke-linejoin="miter"/>
<path d="M1328.21,1035.3 H1339.4 M1328.21,1104.58 H1339.4 M1328.21,1173.85 H1339.4 M1328.21,1243.12 H1339.4 M1328.21,1312.4 H1339.4 M1376.3,1312.4 V1323.89 M1431.4,1312.4 V1323.89 M1486.8,1312.4 V1323.89" stroke="#000" stroke-width="2.7" fill="none"/>
<text transform="translate(1301.98,1042.59) scale(1,1.06)" font-size="20.34" font-weight="bold" clip-path="url(#c24)">15</text>
<text transform="translate(1302.18,1111.97) scale(1,1.06)" font-size="20.34" font-weight="bold" clip-path="url(#c25)">10</text>
<text transform="translate(1313.28,1181.14) scale(1,1.06)" font-size="20.34" font-weight="bold">5</text>
<text transform="translate(1313.48,1250.52) scale(1,1.06)" font-size="20.34" font-weight="bold">0</text>
<text transform="translate(1306.48,1319.69) scale(1,1.06)" font-size="20.34" font-weight="bold">-5</text>
<text transform="translate(1359.64,1345.96) scale(1,1.05)" font-size="20.34" font-weight="bold">Pre</text>
<text transform="translate(1421.32,1345.96) scale(1,1.05)" font-size="20.34" font-weight="bold" clip-path="url(#c26)">T1</text>
<text transform="translate(1475.24,1345.96) scale(1,1.05)" font-size="20.34" font-weight="bold">T3</text>
<line x1="1371.7" y1="1063.7" x2="1438" y2="1063.7" stroke="#111" stroke-width="1.6"/>
<text x="1400.35" y="1061" font-size="23" font-weight="bold">*</text>
<text transform="translate(1257.7,1173.3) rotate(-90)" x="-97.41" font-size="23.19" font-weight="bold">Trp concentration</text>
<text transform="translate(1284.6,1173.7) rotate(-90)" x="-38.66" font-size="23.19" font-weight="bold">(&#956;g/ml)</text>
</g>
</svg>
</body></html>
